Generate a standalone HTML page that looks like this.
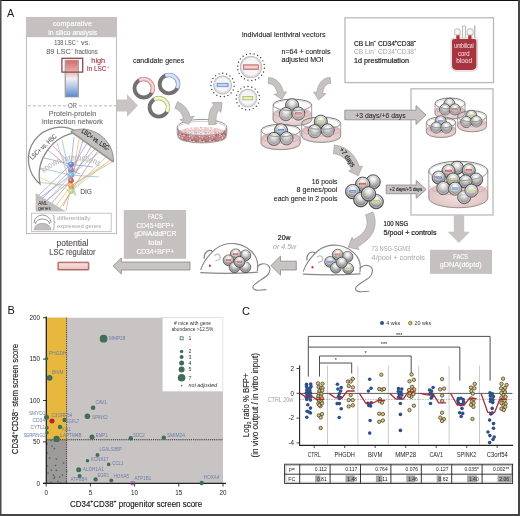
<!DOCTYPE html>
<html><head><meta charset="utf-8"><style>
html,body{margin:0;padding:0;background:#fff;}
svg{display:block;font-family:"Liberation Sans", sans-serif;will-change:transform;}
</style></head><body>
<svg width="520" height="516" viewBox="0 0 520 516">
<rect width="520" height="516" fill="#ffffff"/>
<defs><radialGradient id="bg" cx="0.5" cy="0.4" r="0.62" fx="0.5" fy="0.22"><stop offset="0" stop-color="#ffffff"/><stop offset="0.3" stop-color="#e6e6e6"/><stop offset="0.65" stop-color="#a6a6a6"/><stop offset="0.88" stop-color="#727272"/><stop offset="1" stop-color="#505050"/></radialGradient><radialGradient id="vr" cx="0.5" cy="0.5" r="0.5"><stop offset="0.8" stop-color="#d6d4d4"/><stop offset="1" stop-color="#9a9898"/></radialGradient><radialGradient id="pk" cx="0.5" cy="0.55" r="0.6"><stop offset="0" stop-color="#f0dcdc"/><stop offset="1" stop-color="#d9b4b4"/></radialGradient></defs>
<text x="7.00" y="16.60" font-size="10.8" fill="#1a1a1a" >A</text>
<rect x="26.5" y="17.5" width="90" height="216" fill="#fff" stroke="#c2bebe" stroke-width="1.1"/>
<rect x="26" y="17" width="91" height="20.2" fill="#c6c1c1"/>
<text x="72.45" y="26.20" font-size="7.9" fill="#fff" text-anchor="middle" textLength="39" lengthAdjust="spacingAndGlyphs" stroke="#fff" stroke-width="0.15">comparative</text>
<text x="72.70" y="34.80" font-size="7.9" fill="#fff" text-anchor="middle" textLength="49" lengthAdjust="spacingAndGlyphs" stroke="#fff" stroke-width="0.15">in silico analysis</text>
<text x="54.20" y="45.20" font-size="7.6" fill="#716d6d" textLength="21.6" lengthAdjust="spacingAndGlyphs" stroke="#716d6d" stroke-width="0.12">138 LSC</text>
<text x="76.20" y="42.20" font-size="4.2" fill="#716d6d" >+</text>
<text x="81.10" y="45.20" font-size="7.6" fill="#716d6d" textLength="9.4" lengthAdjust="spacingAndGlyphs" stroke="#716d6d" stroke-width="0.12">vs.</text>
<text x="46.20" y="54.20" font-size="7.6" fill="#716d6d" textLength="24.7" lengthAdjust="spacingAndGlyphs" stroke="#716d6d" stroke-width="0.12">89 LSC</text>
<text x="71.10" y="51.20" font-size="4.2" fill="#716d6d" >−</text>
<text x="74.70" y="54.20" font-size="7.6" fill="#716d6d" textLength="23.1" lengthAdjust="spacingAndGlyphs" stroke="#716d6d" stroke-width="0.12">fractions</text>
<defs><linearGradient id="hm" x1="0" y1="0" x2="0" y2="1"><stop offset="0" stop-color="#d86a6a"/><stop offset="0.25" stop-color="#e2a0a0"/><stop offset="0.5" stop-color="#f4f0f2"/><stop offset="0.75" stop-color="#a9c2e6"/><stop offset="1" stop-color="#5a88c8"/></linearGradient></defs>
<rect x="64.6" y="59.8" width="14.4" height="37.6" fill="#a8a4a4"/>
<rect x="66" y="60.5" width="11.6" height="36.2" fill="url(#hm)"/>
<rect x="61.9" y="58.3" width="20.8" height="13.8" fill="none" stroke="#8e4848" stroke-width="1.3"/>
<text x="91.30" y="62.60" font-size="7.8" fill="#a33a48" textLength="13.9" lengthAdjust="spacingAndGlyphs" stroke="#a33a48" stroke-width="0.15">high</text>
<text x="87.10" y="71.40" font-size="7.8" fill="#a33a48" textLength="19.3" lengthAdjust="spacingAndGlyphs" stroke="#a33a48" stroke-width="0.15">in LSC</text>
<text x="106.80" y="68.20" font-size="4.4" fill="#a33a48" >+</text>
<line x1="28" y1="105.8" x2="66" y2="105.8" stroke="#aaa6a6" stroke-width="0.8" stroke-dasharray="3,2"/>
<line x1="79" y1="105.8" x2="116" y2="105.8" stroke="#aaa6a6" stroke-width="0.8" stroke-dasharray="3,2"/>
<text x="72.40" y="108.10" font-size="7.6" fill="#716d6d" text-anchor="middle" textLength="9" lengthAdjust="spacingAndGlyphs" stroke="#716d6d" stroke-width="0.12">OR</text>
<text x="72.50" y="115.50" font-size="7.9" fill="#716d6d" text-anchor="middle" textLength="47.5" lengthAdjust="spacingAndGlyphs" stroke="#716d6d" stroke-width="0.12">Protein-protein</text>
<text x="72.45" y="124.20" font-size="7.9" fill="#716d6d" text-anchor="middle" textLength="61.1" lengthAdjust="spacingAndGlyphs" stroke="#716d6d" stroke-width="0.12">interaction network</text>
<polyline points="39,195 71,164.3 74,137" fill="none" stroke="#7c9ad0" stroke-width="0.75" opacity="0.9"/>
<polyline points="43,198 71,169.7 88,141.5" fill="none" stroke="#a585c0" stroke-width="0.75" opacity="0.9"/>
<polyline points="47,201 71,175.1 101,151" fill="none" stroke="#74bcd8" stroke-width="0.75" opacity="0.9"/>
<polyline points="51,204 71,180.5 92,145" fill="none" stroke="#c8806e" stroke-width="0.75" opacity="0.9"/>
<polyline points="55,207 71,185.9 111,160" fill="none" stroke="#e8ac6c" stroke-width="0.75" opacity="0.9"/>
<polyline points="59,209.5 71,191.3 106,157" fill="none" stroke="#b4cc84" stroke-width="0.75" opacity="0.9"/>
<polyline points="37,200 71,175.1 96,148" fill="none" stroke="#7c9ad0" stroke-width="0.75" opacity="0.9"/>
<polyline points="41,205 71,180.5 83,140" fill="none" stroke="#a585c0" stroke-width="0.75" opacity="0.9"/>
<polyline points="36,182 71,185.9 112,162" fill="none" stroke="#cfa88c" stroke-width="0.75" opacity="0.9"/>
<polyline points="34,175 71,191.3 104,165" fill="none" stroke="#b4cc84" stroke-width="0.75" opacity="0.9"/>
<polyline points="40,168 71,175.1 99,177" fill="none" stroke="#74bcd8" stroke-width="0.75" opacity="0.9"/>
<polyline points="48,150 71,169.7 80,174" fill="none" stroke="#a585c0" stroke-width="0.75" opacity="0.9"/>
<polyline points="57,143 71,185.9 75,195" fill="none" stroke="#cfa88c" stroke-width="0.75" opacity="0.9"/>
<polyline points="44,158 71,164.3 93,167" fill="none" stroke="#7c9ad0" stroke-width="0.75" opacity="0.9"/>
<polyline points="63,206 71,191.3 97,152" fill="none" stroke="#c8806e" stroke-width="0.75" opacity="0.9"/>
<polyline points="66,211 71,185.9 79,139" fill="none" stroke="#e8ac6c" stroke-width="0.75" opacity="0.9"/>
<polyline points="53,146 71,164.3 78,160" fill="none" stroke="#a585c0" stroke-width="0.75" opacity="0.9"/>
<polyline points="62,140 71,180.5 76,196" fill="none" stroke="#74bcd8" stroke-width="0.75" opacity="0.9"/>
<path id="kip" d="M44.2,173.2 A45.6,45.6 0 0 1 99.2,166.5" fill="none"/>
<text font-size="8.4" fill="#bfbbbb" stroke="#bfbbbb" stroke-width="0.15"><textPath href="#kip" textLength="59" lengthAdjust="spacingAndGlyphs">known interactions</textPath></text>
<path d="M40,183.95 A32,32 0 0 1 77.67,132.35 A43.8,43.8 0 0 0 40,183.95Z" fill="#fff" stroke="#8c8888" stroke-width="1.3"/>
<text x="0.00" y="0.00" font-size="6.6" fill="#5a5656" text-anchor="middle" textLength="34" lengthAdjust="spacingAndGlyphs" stroke="#5a5656" stroke-width="0.1" transform="translate(44.6,148.4) rotate(-43)">LSC+ vs. HSC</text>
<path d="M70.8,131.2 A31.6,31.6 0 0 1 113.5,161.7 Z" fill="#c3bfbf" stroke="#8c8888" stroke-width="0.9"/>
<line x1="70.8" y1="131.6" x2="113.2" y2="161.9" stroke="#9a9696" stroke-width="1.6"/>
<text x="0.00" y="0.00" font-size="6.6" fill="#2a2a2a" text-anchor="middle" textLength="33" lengthAdjust="spacingAndGlyphs" stroke="#2a2a2a" stroke-width="0.2" transform="translate(94.5,141.5) rotate(35.5)">LSC+ vs. LSC-</text>
<defs><radialGradient id="dg" cx="0.4" cy="0.35" r="0.7"><stop offset="0" stop-color="#fff" stop-opacity="0.6"/><stop offset="0.5" stop-color="#fff" stop-opacity="0"/><stop offset="1" stop-color="#000" stop-opacity="0.15"/></radialGradient></defs>
<circle cx="71" cy="164.3" r="2.8" fill="#5b88cc"/>
<circle cx="71" cy="164.3" r="2.8" fill="url(#dg)"/>
<circle cx="71" cy="169.7" r="2.8" fill="#9b80c0"/>
<circle cx="71" cy="169.7" r="2.8" fill="url(#dg)"/>
<circle cx="71" cy="175.1" r="2.8" fill="#6cb8e0"/>
<circle cx="71" cy="175.1" r="2.8" fill="url(#dg)"/>
<circle cx="71" cy="180.5" r="2.8" fill="#c86050"/>
<circle cx="71" cy="180.5" r="2.8" fill="url(#dg)"/>
<circle cx="71" cy="185.9" r="2.8" fill="#e8a050"/>
<circle cx="71" cy="185.9" r="2.8" fill="url(#dg)"/>
<circle cx="71" cy="191.3" r="2.8" fill="#c4d878"/>
<circle cx="71" cy="191.3" r="2.8" fill="url(#dg)"/>
<text x="80.20" y="194.10" font-size="7.2" fill="#444" textLength="11.8" lengthAdjust="spacingAndGlyphs" >DIG</text>
<polygon points="35.6,193 35.6,211.6 66,211.6" fill="#c3bfbf"/>
<text x="38.20" y="204.50" font-size="4.6" fill="#222" >AML</text>
<text x="38.20" y="209.60" font-size="4.6" fill="#222" >genes</text>
<rect x="31.6" y="213.2" width="79.6" height="18.4" fill="#fff" stroke="#c2bebe" stroke-width="0.9"/>
<path d="M34,223 A8.5,8 0 0 1 51,223 M35.5,224 A7,5 0 0 1 49.5,224" fill="none" stroke="#8c8888" stroke-width="0.9"/>
<path d="M34,229.8 A8.5,6.5 0 0 1 51,229.8 Z" fill="#c3bfbf" stroke="#9a9696" stroke-width="0.6"/>
<path d="M52.5,215 Q54,215 54,217 L54,221 Q54,222.3 55.3,222.3 Q54,222.3 54,223.6 L54,228 Q54,230 52.5,230" fill="none" stroke="#8c8888" stroke-width="0.7"/>
<text x="56.90" y="219.80" font-size="6.2" fill="#a6a2a2" textLength="33.5" lengthAdjust="spacingAndGlyphs" >differentially</text>
<text x="56.90" y="227.60" font-size="6.2" fill="#a6a2a2" textLength="44.3" lengthAdjust="spacingAndGlyphs" >expressed genes</text>
<text x="72.50" y="246.00" font-size="8.6" fill="#555151" text-anchor="middle" textLength="32" lengthAdjust="spacingAndGlyphs" stroke="#555151" stroke-width="0.12">potential</text>
<text x="72.40" y="254.90" font-size="8.6" fill="#555151" text-anchor="middle" textLength="46.3" lengthAdjust="spacingAndGlyphs" stroke="#555151" stroke-width="0.12">LSC regulator</text>
<defs><linearGradient id="rb" x1="0" y1="0" x2="0" y2="1"><stop offset="0" stop-color="#f6e4e4"/><stop offset="1" stop-color="#e8c4c4"/></linearGradient></defs>
<rect x="56.8" y="261.2" width="33" height="9.8" rx="2.2" fill="#e6baba"/>
<rect x="58.3" y="262.7" width="30" height="6.8" fill="url(#rb)" stroke="#b25858" stroke-width="0.9"/>
<polygon points="117.00,99.40 127.00,99.40 127.00,94.00 137.90,105.50 127.00,117.00 127.00,111.60 117.00,111.60" fill="#c8c4c4" stroke="none" stroke-width="0"/>
<text x="133.00" y="63.40" font-size="7.2" fill="#222" textLength="51.2" lengthAdjust="spacingAndGlyphs" stroke="#222" stroke-width="0.1">candidate genes</text>
<circle cx="143.7" cy="88.3" r="9.2" fill="none" stroke="#727070" stroke-width="3.8"/>
<path d="M139.24,80.25 A9.2,9.2 0 0 1 151.75,92.76" fill="none" stroke="#d48a8a" stroke-width="4.4"/>
<path d="M139.24,80.25 A9.2,9.2 0 0 1 151.75,92.76" fill="none" stroke="#efc0c0" stroke-width="3.0"/>
<path d="M139.24,80.25 A9.2,9.2 0 0 1 151.75,92.76" fill="none" stroke="#fff" stroke-width="1" opacity="0.6"/>
<circle cx="168.9" cy="84.2" r="9.2" fill="none" stroke="#727070" stroke-width="3.8"/>
<path d="M165.45,75.67 A9.2,9.2 0 0 1 177.24,88.09" fill="none" stroke="#7fa0d8" stroke-width="4.4"/>
<path d="M165.45,75.67 A9.2,9.2 0 0 1 177.24,88.09" fill="none" stroke="#c6d6f2" stroke-width="3.0"/>
<path d="M165.45,75.67 A9.2,9.2 0 0 1 177.24,88.09" fill="none" stroke="#fff" stroke-width="1" opacity="0.6"/>
<circle cx="158.8" cy="107.4" r="9.2" fill="none" stroke="#727070" stroke-width="3.8"/>
<path d="M154.20,99.43 A9.2,9.2 0 0 1 166.92,111.72" fill="none" stroke="#b8c878" stroke-width="4.4"/>
<path d="M154.20,99.43 A9.2,9.2 0 0 1 166.92,111.72" fill="none" stroke="#e8f0c4" stroke-width="3.0"/>
<path d="M154.20,99.43 A9.2,9.2 0 0 1 166.92,111.72" fill="none" stroke="#fff" stroke-width="1" opacity="0.6"/>
<defs><pattern id="c1" width="10" height="6" patternUnits="userSpaceOnUse"><rect width="10" height="6" fill="#eccfcf"/><circle cx="3.2" cy="0.9" r="0.9" fill="#f8eeee"/><circle cx="8.2" cy="0.6" r="0.8" fill="#d4a2a2"/><circle cx="0.4" cy="2.6" r="0.5" fill="#f8eeee"/><circle cx="5.5" cy="0.4" r="0.8" fill="#d4a2a2"/><circle cx="6.3" cy="3.5" r="0.5" fill="#fdf8f8"/><circle cx="0.5" cy="1.3" r="0.8" fill="#d4a2a2"/><circle cx="2.9" cy="0.9" r="0.6" fill="#ecd0d0"/><circle cx="5.6" cy="4.1" r="0.6" fill="#d4a2a2"/><circle cx="3.7" cy="3.3" r="0.5" fill="#f8eeee"/><circle cx="6.2" cy="3.0" r="0.8" fill="#ecd0d0"/><circle cx="4.7" cy="5.5" r="0.7" fill="#d4a2a2"/><circle cx="7.9" cy="4.2" r="0.6" fill="#ecd0d0"/><circle cx="5.3" cy="5.3" r="0.9" fill="#ecd0d0"/><circle cx="6.1" cy="0.4" r="0.8" fill="#d4a2a2"/><circle cx="7.6" cy="0.9" r="0.8" fill="#f8eeee"/><circle cx="9.6" cy="0.5" r="0.8" fill="#ecd0d0"/><circle cx="3.4" cy="2.1" r="0.8" fill="#fdf8f8"/><circle cx="0.7" cy="0.6" r="0.7" fill="#f8eeee"/><circle cx="0.6" cy="4.2" r="0.9" fill="#fdf8f8"/><circle cx="2.8" cy="2.3" r="0.9" fill="#f8eeee"/><circle cx="9.4" cy="2.1" r="0.9" fill="#fdf8f8"/><circle cx="0.6" cy="4.6" r="0.6" fill="#d4a2a2"/></pattern><pattern id="c2" width="10" height="6" patternUnits="userSpaceOnUse"><rect width="10" height="6" fill="#cc9090"/><circle cx="4.5" cy="3.4" r="1.1" fill="#f6e6e6"/><circle cx="4.5" cy="5.1" r="0.6" fill="#a85a5a"/><circle cx="4.8" cy="3.7" r="0.6" fill="#f6e6e6"/><circle cx="3.0" cy="0.5" r="1.0" fill="#b06666"/><circle cx="6.0" cy="2.4" r="0.8" fill="#a85a5a"/><circle cx="6.5" cy="3.7" r="1.0" fill="#b06666"/><circle cx="0.6" cy="1.1" r="0.6" fill="#b06666"/><circle cx="7.8" cy="2.0" r="0.9" fill="#eed6d6"/><circle cx="5.2" cy="3.8" r="0.8" fill="#b06666"/><circle cx="4.6" cy="1.7" r="1.1" fill="#b06666"/><circle cx="7.1" cy="1.9" r="0.6" fill="#c07a7a"/><circle cx="0.3" cy="3.4" r="0.6" fill="#b06666"/><circle cx="8.5" cy="2.3" r="1.1" fill="#b06666"/><circle cx="2.1" cy="5.6" r="0.5" fill="#f6e6e6"/><circle cx="9.8" cy="2.4" r="0.5" fill="#eed6d6"/><circle cx="7.8" cy="1.6" r="0.6" fill="#c07a7a"/><circle cx="0.2" cy="2.5" r="1.1" fill="#eed6d6"/><circle cx="2.5" cy="0.6" r="0.5" fill="#f6e6e6"/><circle cx="1.8" cy="3.4" r="0.8" fill="#eed6d6"/><circle cx="9.9" cy="4.6" r="0.8" fill="#f6e6e6"/><circle cx="1.2" cy="2.5" r="0.6" fill="#c07a7a"/><circle cx="8.6" cy="5.8" r="0.9" fill="#b06666"/><circle cx="2.1" cy="2.4" r="1.0" fill="#a85a5a"/><circle cx="1.0" cy="5.9" r="0.6" fill="#c07a7a"/></pattern></defs>
<path d="M177.3,128 L178.3,137.5 A23.8,5.8 0 0 0 225.8,137.5 L226.8,128 Z" fill="url(#c2)"/>
<path d="M178.3,137.5 A23.8,5.8 0 0 0 225.8,137.5" fill="none" stroke="#9a9696" stroke-width="0.8"/>
<ellipse cx="202" cy="127.4" rx="24.9" ry="8" fill="#fff" stroke="#8e8a8a" stroke-width="0.9"/>
<ellipse cx="202" cy="131" rx="22" ry="4" fill="url(#c1)"/>
<ellipse cx="202" cy="128.2" rx="23.8" ry="6.9" fill="none" stroke="#b0acac" stroke-width="0.6"/>
<path d="M177.3,128 Q176.6,133 178.3,137.5 M226.8,128 Q227.4,133 225.8,137.5" fill="none" stroke="#8e8a8a" stroke-width="0.9"/>
<path d="M177.8,133.2 A24,5.5 0 0 0 226.2,133.2" fill="none" stroke="#8e8a8a" stroke-width="0.6"/>
<polygon points="174.84,108.22 175.41,108.48 175.95,108.74 176.47,109.02 176.97,109.31 177.45,109.62 177.92,109.95 178.36,110.28 178.79,110.64 179.20,111.01 179.59,111.39 179.96,111.79 180.32,112.21 180.67,112.64 181.00,113.10 181.31,113.57 181.62,114.06 181.90,114.57 182.17,115.10 182.43,115.66 182.67,116.23 182.90,116.83 183.11,117.45 183.31,118.09 183.49,118.76 179.90,119.67 188.50,124.30 193.86,116.13 190.27,117.04 190.04,116.16 189.77,115.30 189.49,114.46 189.17,113.63 188.83,112.83 188.47,112.04 188.07,111.27 187.66,110.52 187.21,109.79 186.74,109.09 186.24,108.40 185.72,107.74 185.17,107.11 184.59,106.49 183.99,105.90 183.36,105.34 182.71,104.80 182.04,104.29 181.35,103.81 180.63,103.35 179.89,102.91 179.14,102.51 178.36,102.13 177.56,101.78" fill="#c6c2c2" stroke="#a19d9d" stroke-width="0.7" stroke-linejoin="miter"/>
<polygon points="216.19,124.20 216.12,123.24 216.07,122.32 216.04,121.42 216.03,120.56 216.04,119.72 216.07,118.93 216.12,118.16 216.18,117.43 216.26,116.74 216.36,116.07 216.47,115.45 216.60,114.86 216.74,114.30 216.90,113.78 217.06,113.29 217.24,112.83 217.43,112.41 217.62,112.03 217.83,111.67 218.04,111.34 218.26,111.04 218.48,110.77 218.71,110.52 218.95,110.29 220.89,112.45 222.00,102.60 212.08,102.62 214.02,104.78 213.45,105.32 212.91,105.90 212.41,106.51 211.94,107.15 211.51,107.82 211.11,108.51 210.75,109.23 210.41,109.98 210.11,110.74 209.85,111.53 209.61,112.33 209.39,113.16 209.21,114.01 209.05,114.88 208.92,115.77 208.82,116.69 208.74,117.62 208.68,118.58 208.64,119.56 208.63,120.56 208.64,121.58 208.68,122.63 208.73,123.70 208.81,124.80" fill="#c6c2c2" stroke="#a19d9d" stroke-width="0.7" stroke-linejoin="miter"/>
<circle cx="251" cy="67.1" r="11.10" fill="#b4b2b2"/>
<circle cx="251" cy="67.1" r="10.40" fill="#dedcdc"/>
<circle cx="251" cy="66.70" r="9.00" fill="#f6f4f4"/>
<circle cx="264.35" cy="68.25" r="0.7" fill="#3c3c3c"/>
<circle cx="263.49" cy="71.96" r="0.7" fill="#3c3c3c"/>
<circle cx="261.61" cy="75.28" r="0.7" fill="#3c3c3c"/>
<circle cx="258.88" cy="77.94" r="0.7" fill="#3c3c3c"/>
<circle cx="255.50" cy="79.72" r="0.7" fill="#3c3c3c"/>
<circle cx="251.76" cy="80.48" r="0.7" fill="#3c3c3c"/>
<circle cx="247.96" cy="80.15" r="0.7" fill="#3c3c3c"/>
<circle cx="244.41" cy="78.77" r="0.7" fill="#3c3c3c"/>
<circle cx="241.39" cy="76.44" r="0.7" fill="#3c3c3c"/>
<circle cx="239.15" cy="73.35" r="0.7" fill="#3c3c3c"/>
<circle cx="237.87" cy="69.76" r="0.7" fill="#3c3c3c"/>
<circle cx="237.65" cy="65.95" r="0.7" fill="#3c3c3c"/>
<circle cx="238.51" cy="62.24" r="0.7" fill="#3c3c3c"/>
<circle cx="240.39" cy="58.92" r="0.7" fill="#3c3c3c"/>
<circle cx="243.12" cy="56.26" r="0.7" fill="#3c3c3c"/>
<circle cx="246.50" cy="54.48" r="0.7" fill="#3c3c3c"/>
<circle cx="250.24" cy="53.72" r="0.7" fill="#3c3c3c"/>
<circle cx="254.04" cy="54.05" r="0.7" fill="#3c3c3c"/>
<circle cx="257.59" cy="55.43" r="0.7" fill="#3c3c3c"/>
<circle cx="260.61" cy="57.76" r="0.7" fill="#3c3c3c"/>
<circle cx="262.85" cy="60.85" r="0.7" fill="#3c3c3c"/>
<circle cx="264.13" cy="64.44" r="0.7" fill="#3c3c3c"/>
<rect x="243.50" y="64.80" width="15.00" height="4.60" fill="#e4a8a8" stroke="#bc6e6e" stroke-width="0.8"/>
<rect x="244.70" y="66.27" width="12.60" height="1.66" fill="#fff" opacity="0.55"/>
<circle cx="222.6" cy="85" r="9.40" fill="#b4b2b2"/>
<circle cx="222.6" cy="85" r="8.70" fill="#dedcdc"/>
<circle cx="222.6" cy="84.60" r="7.30" fill="#f6f4f4"/>
<circle cx="234.24" cy="86.16" r="0.7" fill="#3c3c3c"/>
<circle cx="233.24" cy="89.88" r="0.7" fill="#3c3c3c"/>
<circle cx="231.08" cy="93.07" r="0.7" fill="#3c3c3c"/>
<circle cx="228.00" cy="95.38" r="0.7" fill="#3c3c3c"/>
<circle cx="224.33" cy="96.57" r="0.7" fill="#3c3c3c"/>
<circle cx="220.48" cy="96.51" r="0.7" fill="#3c3c3c"/>
<circle cx="216.86" cy="95.20" r="0.7" fill="#3c3c3c"/>
<circle cx="213.86" cy="92.78" r="0.7" fill="#3c3c3c"/>
<circle cx="211.81" cy="89.52" r="0.7" fill="#3c3c3c"/>
<circle cx="210.93" cy="85.77" r="0.7" fill="#3c3c3c"/>
<circle cx="211.31" cy="81.94" r="0.7" fill="#3c3c3c"/>
<circle cx="212.91" cy="78.44" r="0.7" fill="#3c3c3c"/>
<circle cx="215.57" cy="75.65" r="0.7" fill="#3c3c3c"/>
<circle cx="218.98" cy="73.87" r="0.7" fill="#3c3c3c"/>
<circle cx="222.79" cy="73.30" r="0.7" fill="#3c3c3c"/>
<circle cx="226.58" cy="74.00" r="0.7" fill="#3c3c3c"/>
<circle cx="229.94" cy="75.89" r="0.7" fill="#3c3c3c"/>
<circle cx="232.50" cy="78.76" r="0.7" fill="#3c3c3c"/>
<circle cx="233.99" cy="82.32" r="0.7" fill="#3c3c3c"/>
<rect x="217.10" y="83.30" width="11.00" height="3.40" fill="#a8c2ee" stroke="#6a8ed0" stroke-width="0.8"/>
<rect x="218.30" y="84.39" width="8.60" height="1.22" fill="#fff" opacity="0.55"/>
<circle cx="247.8" cy="98.2" r="9.40" fill="#b4b2b2"/>
<circle cx="247.8" cy="98.2" r="8.70" fill="#dedcdc"/>
<circle cx="247.8" cy="97.80" r="7.30" fill="#f6f4f4"/>
<circle cx="259.44" cy="99.36" r="0.7" fill="#3c3c3c"/>
<circle cx="258.44" cy="103.08" r="0.7" fill="#3c3c3c"/>
<circle cx="256.28" cy="106.27" r="0.7" fill="#3c3c3c"/>
<circle cx="253.20" cy="108.58" r="0.7" fill="#3c3c3c"/>
<circle cx="249.53" cy="109.77" r="0.7" fill="#3c3c3c"/>
<circle cx="245.68" cy="109.71" r="0.7" fill="#3c3c3c"/>
<circle cx="242.06" cy="108.40" r="0.7" fill="#3c3c3c"/>
<circle cx="239.06" cy="105.98" r="0.7" fill="#3c3c3c"/>
<circle cx="237.01" cy="102.72" r="0.7" fill="#3c3c3c"/>
<circle cx="236.13" cy="98.97" r="0.7" fill="#3c3c3c"/>
<circle cx="236.51" cy="95.14" r="0.7" fill="#3c3c3c"/>
<circle cx="238.11" cy="91.64" r="0.7" fill="#3c3c3c"/>
<circle cx="240.77" cy="88.85" r="0.7" fill="#3c3c3c"/>
<circle cx="244.18" cy="87.07" r="0.7" fill="#3c3c3c"/>
<circle cx="247.99" cy="86.50" r="0.7" fill="#3c3c3c"/>
<circle cx="251.78" cy="87.20" r="0.7" fill="#3c3c3c"/>
<circle cx="255.14" cy="89.09" r="0.7" fill="#3c3c3c"/>
<circle cx="257.70" cy="91.96" r="0.7" fill="#3c3c3c"/>
<circle cx="259.19" cy="95.52" r="0.7" fill="#3c3c3c"/>
<rect x="242.80" y="96.60" width="10.00" height="3.20" fill="#dfe8a4" stroke="#a8bc60" stroke-width="0.8"/>
<rect x="244.00" y="97.62" width="7.60" height="1.15" fill="#fff" opacity="0.55"/>
<text x="242.00" y="37.00" font-size="7.2" fill="#222" textLength="83.5" lengthAdjust="spacingAndGlyphs" stroke="#222" stroke-width="0.1">individual lentiviral vectors</text>
<text x="281.50" y="53.60" font-size="7.2" fill="#222" textLength="49" lengthAdjust="spacingAndGlyphs" stroke="#222" stroke-width="0.1">n=64 + controls</text>
<text x="281.50" y="62.00" font-size="7.2" fill="#222" textLength="42" lengthAdjust="spacingAndGlyphs" stroke="#222" stroke-width="0.1">adjusted MOI</text>
<polygon points="268.30,83.70 268.91,83.73 269.49,83.80 270.04,83.90 270.56,84.02 271.05,84.17 271.52,84.35 271.96,84.56 272.39,84.79 272.80,85.05 273.20,85.34 273.59,85.67 273.96,86.03 274.32,86.43 274.68,86.87 275.02,87.35 275.35,87.87 275.68,88.43 275.98,89.04 276.28,89.70 276.56,90.41 276.82,91.16 277.07,91.95 277.29,92.80 277.50,93.69 274.38,94.37 281.80,99.30 286.49,91.72 283.36,92.41 283.11,91.33 282.83,90.29 282.52,89.28 282.18,88.31 281.81,87.37 281.40,86.47 280.97,85.61 280.50,84.78 279.99,83.98 279.45,83.23 278.87,82.51 278.26,81.84 277.61,81.22 276.92,80.63 276.19,80.10 275.44,79.62 274.65,79.19 273.84,78.82 273.00,78.50 272.14,78.23 271.25,78.02 270.35,77.86 269.43,77.76 268.50,77.70" fill="#c6c2c2" stroke="#a19d9d" stroke-width="0.7" stroke-linejoin="miter"/>
<polygon points="330.20,77.41 329.30,77.49 328.42,77.63 327.56,77.82 326.71,78.06 325.89,78.35 325.10,78.70 324.33,79.10 323.59,79.56 322.89,80.06 322.22,80.62 321.59,81.22 321.00,81.87 320.44,82.55 319.93,83.28 319.45,84.04 319.01,84.84 318.61,85.68 318.25,86.54 317.91,87.44 317.61,88.37 317.35,89.34 317.11,90.34 316.90,91.37 316.72,92.43 313.56,91.95 318.60,100.00 325.82,93.82 322.65,93.34 322.80,92.46 322.97,91.62 323.16,90.84 323.36,90.10 323.59,89.40 323.83,88.75 324.08,88.15 324.35,87.59 324.63,87.07 324.93,86.60 325.23,86.17 325.55,85.77 325.87,85.42 326.21,85.10 326.56,84.81 326.92,84.55 327.30,84.32 327.69,84.11 328.11,83.93 328.55,83.77 329.02,83.64 329.51,83.53 330.04,83.45 330.60,83.39" fill="#c6c2c2" stroke="#a19d9d" stroke-width="0.7" stroke-linejoin="miter"/>
<path d="M273.10,113.90 L273.10,119.90 A19.30,5.80 0 0 0 311.70,119.90 L311.70,113.90 A19.30,5.80 0 0 0 273.10,113.90Z" fill="url(#pk)" stroke="#c9a5a5" stroke-width="0.5"/>
<path d="M273.10,104.90 A19.30,5.80 0 0 1 311.70,104.90" fill="none" stroke="#7e7a7a" stroke-width="1.0"/>
<path d="M274.30,105.20 A18.10,4.80 0 0 1 310.50,105.20" fill="none" stroke="#bdb9b9" stroke-width="0.6"/>
<circle cx="292.10" cy="105.30" r="6.60" fill="url(#bg)" stroke="#3c3c3c" stroke-width="0.79"/>
<circle cx="292.10" cy="105.30" r="5.41" fill="none" stroke="#f0f0f0" stroke-width="0.59" opacity="0.8"/>
<circle cx="292.10" cy="105.30" r="4.82" fill="none" stroke="#8a8a8a" stroke-width="0.40" opacity="0.6"/>
<circle cx="285.90" cy="114.10" r="6.60" fill="url(#bg)" stroke="#3c3c3c" stroke-width="0.79"/>
<circle cx="285.90" cy="114.10" r="5.41" fill="none" stroke="#f0f0f0" stroke-width="0.59" opacity="0.8"/>
<circle cx="285.90" cy="114.10" r="4.82" fill="none" stroke="#8a8a8a" stroke-width="0.40" opacity="0.6"/>
<circle cx="298.30" cy="113.60" r="6.60" fill="url(#bg)" stroke="#3c3c3c" stroke-width="0.79"/>
<circle cx="298.30" cy="113.60" r="5.41" fill="none" stroke="#f0f0f0" stroke-width="0.59" opacity="0.8"/>
<circle cx="298.30" cy="113.60" r="4.82" fill="none" stroke="#8a8a8a" stroke-width="0.40" opacity="0.6"/>
<rect x="294.67" y="112.08" width="7.26" height="2.77" fill="#c65454" stroke="#f4f4f4" stroke-width="0.46"/>
<rect x="295.76" y="113.08" width="5.08" height="0.78" fill="#f2c8c8" opacity="0.8"/>
<path d="M273.10,109.40 A19.30,5.80 0 0 0 311.70,109.40 L311.70,119.90 A19.30,5.80 0 0 1 273.10,119.90 Z" fill="#ffffff" opacity="0.2"/>
<path d="M273.10,104.90 A19.30,5.80 0 0 0 311.70,104.90" fill="none" stroke="#7e7a7a" stroke-width="0.95" opacity="0.85"/>
<path d="M274.20,105.80 A18.20,5.40 0 0 0 310.60,105.80" fill="none" stroke="#bcb8b8" stroke-width="0.6" opacity="0.9"/>
<path d="M273.10,104.90 L273.10,119.90 A19.30,5.80 0 0 0 311.70,119.90 L311.70,104.90" fill="none" stroke="#8a8686" stroke-width="0.8"/>
<path d="M274.10,113.15 A18.30,5.30 0 0 0 310.70,113.15" fill="none" stroke="#c6a0a0" stroke-width="0.7"/>
<path d="M261.10,138.30 L261.10,143.50 A19.50,6.20 0 0 0 300.10,143.50 L300.10,138.30 A19.50,6.20 0 0 0 261.10,138.30Z" fill="url(#pk)" stroke="#c9a5a5" stroke-width="0.5"/>
<path d="M261.10,130.50 A19.50,6.20 0 0 1 300.10,130.50" fill="none" stroke="#7e7a7a" stroke-width="1.0"/>
<path d="M262.30,130.80 A18.30,5.20 0 0 1 298.90,130.80" fill="none" stroke="#bdb9b9" stroke-width="0.6"/>
<circle cx="281.00" cy="130.40" r="6.60" fill="url(#bg)" stroke="#3c3c3c" stroke-width="0.79"/>
<circle cx="281.00" cy="130.40" r="5.41" fill="none" stroke="#f0f0f0" stroke-width="0.59" opacity="0.8"/>
<circle cx="281.00" cy="130.40" r="4.82" fill="none" stroke="#8a8a8a" stroke-width="0.40" opacity="0.6"/>
<rect x="277.37" y="128.88" width="7.26" height="2.77" fill="#5580c8" stroke="#f4f4f4" stroke-width="0.46"/>
<rect x="278.46" y="129.88" width="5.08" height="0.78" fill="#c8daf4" opacity="0.8"/>
<circle cx="274.00" cy="139.00" r="6.60" fill="url(#bg)" stroke="#3c3c3c" stroke-width="0.79"/>
<circle cx="274.00" cy="139.00" r="5.41" fill="none" stroke="#f0f0f0" stroke-width="0.59" opacity="0.8"/>
<circle cx="274.00" cy="139.00" r="4.82" fill="none" stroke="#8a8a8a" stroke-width="0.40" opacity="0.6"/>
<circle cx="286.50" cy="138.40" r="6.60" fill="url(#bg)" stroke="#3c3c3c" stroke-width="0.79"/>
<circle cx="286.50" cy="138.40" r="5.41" fill="none" stroke="#f0f0f0" stroke-width="0.59" opacity="0.8"/>
<circle cx="286.50" cy="138.40" r="4.82" fill="none" stroke="#8a8a8a" stroke-width="0.40" opacity="0.6"/>
<path d="M261.10,134.40 A19.50,6.20 0 0 0 300.10,134.40 L300.10,143.50 A19.50,6.20 0 0 1 261.10,143.50 Z" fill="#ffffff" opacity="0.2"/>
<path d="M261.10,130.50 A19.50,6.20 0 0 0 300.10,130.50" fill="none" stroke="#7e7a7a" stroke-width="0.95" opacity="0.85"/>
<path d="M262.20,131.40 A18.40,5.80 0 0 0 299.00,131.40" fill="none" stroke="#bcb8b8" stroke-width="0.6" opacity="0.9"/>
<path d="M261.10,130.50 L261.10,143.50 A19.50,6.20 0 0 0 300.10,143.50 L300.10,130.50" fill="none" stroke="#8a8686" stroke-width="0.8"/>
<path d="M262.10,137.65 A18.50,5.70 0 0 0 299.10,137.65" fill="none" stroke="#c6a0a0" stroke-width="0.7"/>
<path d="M301.70,131.00 L301.70,136.20 A19.50,6.20 0 0 0 340.70,136.20 L340.70,131.00 A19.50,6.20 0 0 0 301.70,131.00Z" fill="url(#pk)" stroke="#c9a5a5" stroke-width="0.5"/>
<path d="M301.70,123.20 A19.50,6.20 0 0 1 340.70,123.20" fill="none" stroke="#7e7a7a" stroke-width="1.0"/>
<path d="M302.90,123.50 A18.30,5.20 0 0 1 339.50,123.50" fill="none" stroke="#bdb9b9" stroke-width="0.6"/>
<circle cx="320.80" cy="121.70" r="6.60" fill="url(#bg)" stroke="#3c3c3c" stroke-width="0.79"/>
<circle cx="320.80" cy="121.70" r="5.41" fill="none" stroke="#f0f0f0" stroke-width="0.59" opacity="0.8"/>
<circle cx="320.80" cy="121.70" r="4.82" fill="none" stroke="#8a8a8a" stroke-width="0.40" opacity="0.6"/>
<rect x="317.17" y="120.18" width="7.26" height="2.77" fill="#aac458" stroke="#f4f4f4" stroke-width="0.46"/>
<rect x="318.26" y="121.18" width="5.08" height="0.78" fill="#e6f0c0" opacity="0.8"/>
<circle cx="314.70" cy="131.20" r="6.60" fill="url(#bg)" stroke="#3c3c3c" stroke-width="0.79"/>
<circle cx="314.70" cy="131.20" r="5.41" fill="none" stroke="#f0f0f0" stroke-width="0.59" opacity="0.8"/>
<circle cx="314.70" cy="131.20" r="4.82" fill="none" stroke="#8a8a8a" stroke-width="0.40" opacity="0.6"/>
<circle cx="327.70" cy="130.40" r="6.60" fill="url(#bg)" stroke="#3c3c3c" stroke-width="0.79"/>
<circle cx="327.70" cy="130.40" r="5.41" fill="none" stroke="#f0f0f0" stroke-width="0.59" opacity="0.8"/>
<circle cx="327.70" cy="130.40" r="4.82" fill="none" stroke="#8a8a8a" stroke-width="0.40" opacity="0.6"/>
<path d="M301.70,127.10 A19.50,6.20 0 0 0 340.70,127.10 L340.70,136.20 A19.50,6.20 0 0 1 301.70,136.20 Z" fill="#ffffff" opacity="0.2"/>
<path d="M301.70,123.20 A19.50,6.20 0 0 0 340.70,123.20" fill="none" stroke="#7e7a7a" stroke-width="0.95" opacity="0.85"/>
<path d="M302.80,124.10 A18.40,5.80 0 0 0 339.60,124.10" fill="none" stroke="#bcb8b8" stroke-width="0.6" opacity="0.9"/>
<path d="M301.70,123.20 L301.70,136.20 A19.50,6.20 0 0 0 340.70,136.20 L340.70,123.20" fill="none" stroke="#8a8686" stroke-width="0.8"/>
<path d="M302.70,130.35 A18.50,5.70 0 0 0 339.70,130.35" fill="none" stroke="#c6a0a0" stroke-width="0.7"/>
<rect x="345" y="17.8" width="148.5" height="64.8" fill="#fff" stroke="#bdb8b8" stroke-width="1.3"/>
<text x="0.00" y="0.00" font-size="7.6" fill="#222" stroke="#222" stroke-width="0.2" transform="translate(354,45.5) scale(0.87,1)">CB Lin<tspan font-size="4.5" dy="-3">−</tspan><tspan dy="3"> CD34</tspan><tspan font-size="4.5" dy="-3">+</tspan><tspan dy="3">CD38</tspan><tspan font-size="4.5" dy="-3">−</tspan></text>
<text x="0.00" y="0.00" font-size="7.6" fill="#a8a4a4" transform="translate(354,54.1) scale(0.87,1)">CB Lin<tspan font-size="4.5" dy="-3">−</tspan><tspan dy="3"> CD34</tspan><tspan font-size="4.5" dy="-3">+</tspan><tspan dy="3">CD38</tspan><tspan font-size="4.5" dy="-3">+</tspan></text>
<text x="354.00" y="63.30" font-size="7.6" fill="#222" textLength="55" lengthAdjust="spacingAndGlyphs" stroke="#222" stroke-width="0.2">1d prestimulation</text>
<path d="M454.7,35 L454.7,30.5 Q454.7,28.7 457.4,28.7 Q460.1,28.7 460.1,30.5 L460.1,35 Z" fill="#f4f4f4" stroke="#a6a2a2" stroke-width="0.7"/>
<path d="M467.1,35 L467.1,30.5 Q467.1,28.7 470.1,28.7 Q473.1,28.7 473.1,30.5 L473.1,35 Z" fill="#f4f4f4" stroke="#a6a2a2" stroke-width="0.7"/>
<rect x="462.6" y="26" width="2.8" height="12.5" fill="#f6f6f6" stroke="#a6a2a2" stroke-width="0.7"/>
<line x1="474.8" y1="25.5" x2="474.8" y2="38.5" stroke="#a6a2a2" stroke-width="1.1"/>
<path d="M454.2,37.9 L476,37.9 Q477.5,37.9 477.5,41.2 L477.5,65.6 Q477.5,71 472.1,71 L456.3,71 Q450.9,71 450.9,65.6 L450.9,41.2 Q450.9,37.9 454.2,37.9 Z" fill="#f2f0f0" stroke="#d0cccc" stroke-width="0.8"/>
<path d="M452,41 Q452,39 454,39 L456.3,39 L456.3,35.2 L459.6,35.2 L459.6,39 L468.2,39 L468.2,35.2 L471.5,35.2 L471.5,39 L474.4,39 Q476.4,39 476.4,41 L476.4,65.5 Q476.4,69.9 472,69.9 L456.4,69.9 Q452,69.9 452,65.5 Z" fill="#a83440"/>
<text x="463.90" y="48.40" font-size="6.6" fill="#f6e8e8" text-anchor="middle" textLength="19.6" lengthAdjust="spacingAndGlyphs" >umbilical</text>
<text x="463.75" y="56.30" font-size="7.2" fill="#f6e8e8" text-anchor="middle" textLength="11.7" lengthAdjust="spacingAndGlyphs" >cord</text>
<text x="464.15" y="63.40" font-size="7.2" fill="#f6e8e8" text-anchor="middle" textLength="15.7" lengthAdjust="spacingAndGlyphs" >blood</text>
<rect x="411" y="88.8" width="82" height="126.2" fill="#fff" stroke="#bdb8b8" stroke-width="1.3"/>
<path d="M435.00,111.00 L435.00,113.50 A15.00,5.50 0 0 0 465.00,113.50 L465.00,111.00 A15.00,5.50 0 0 0 435.00,111.00Z" fill="url(#pk)" stroke="#c9a5a5" stroke-width="0.5"/>
<path d="M435.00,103.50 A15.00,5.50 0 0 1 465.00,103.50" fill="none" stroke="#7e7a7a" stroke-width="1.0"/>
<path d="M436.20,103.80 A13.80,4.50 0 0 1 463.80,103.80" fill="none" stroke="#bdb9b9" stroke-width="0.6"/>
<circle cx="449.40" cy="103.90" r="5.60" fill="url(#bg)" stroke="#3c3c3c" stroke-width="0.67"/>
<circle cx="449.40" cy="103.90" r="4.59" fill="none" stroke="#f0f0f0" stroke-width="0.50" opacity="0.8"/>
<circle cx="449.40" cy="103.90" r="4.09" fill="none" stroke="#8a8a8a" stroke-width="0.34" opacity="0.6"/>
<circle cx="445.00" cy="109.50" r="5.60" fill="url(#bg)" stroke="#3c3c3c" stroke-width="0.67"/>
<circle cx="445.00" cy="109.50" r="4.59" fill="none" stroke="#f0f0f0" stroke-width="0.50" opacity="0.8"/>
<circle cx="445.00" cy="109.50" r="4.09" fill="none" stroke="#8a8a8a" stroke-width="0.34" opacity="0.6"/>
<circle cx="455.00" cy="109.50" r="5.60" fill="url(#bg)" stroke="#3c3c3c" stroke-width="0.67"/>
<circle cx="455.00" cy="109.50" r="4.59" fill="none" stroke="#f0f0f0" stroke-width="0.50" opacity="0.8"/>
<circle cx="455.00" cy="109.50" r="4.09" fill="none" stroke="#8a8a8a" stroke-width="0.34" opacity="0.6"/>
<rect x="451.92" y="108.21" width="6.16" height="2.35" fill="#c65454" stroke="#f4f4f4" stroke-width="0.39"/>
<rect x="452.84" y="109.06" width="4.31" height="0.66" fill="#f2c8c8" opacity="0.8"/>
<path d="M435.00,106.50 A15.00,5.50 0 0 0 465.00,106.50 L465.00,113.50 A15.00,5.50 0 0 1 435.00,113.50 Z" fill="#ffffff" opacity="0.18"/>
<path d="M435.00,103.50 A15.00,5.50 0 0 0 465.00,103.50" fill="none" stroke="#7e7a7a" stroke-width="0.95" opacity="0.85"/>
<path d="M436.10,104.40 A13.90,5.10 0 0 0 463.90,104.40" fill="none" stroke="#bcb8b8" stroke-width="0.6" opacity="0.9"/>
<path d="M435.00,103.50 L435.00,113.50 A15.00,5.50 0 0 0 465.00,113.50 L465.00,103.50" fill="none" stroke="#8a8686" stroke-width="0.8"/>
<path d="M436.00,109.00 A14.00,5.00 0 0 0 464.00,109.00" fill="none" stroke="#c6a0a0" stroke-width="0.7"/>
<path d="M426.30,129.62 L426.30,132.00 A14.70,5.50 0 0 0 455.70,132.00 L455.70,129.62 A14.70,5.50 0 0 0 426.30,129.62Z" fill="url(#pk)" stroke="#c9a5a5" stroke-width="0.5"/>
<path d="M426.30,122.50 A14.70,5.50 0 0 1 455.70,122.50" fill="none" stroke="#7e7a7a" stroke-width="1.0"/>
<path d="M427.50,122.80 A13.50,4.50 0 0 1 454.50,122.80" fill="none" stroke="#bdb9b9" stroke-width="0.6"/>
<circle cx="440.60" cy="121.40" r="5.60" fill="url(#bg)" stroke="#3c3c3c" stroke-width="0.67"/>
<circle cx="440.60" cy="121.40" r="4.59" fill="none" stroke="#f0f0f0" stroke-width="0.50" opacity="0.8"/>
<circle cx="440.60" cy="121.40" r="4.09" fill="none" stroke="#8a8a8a" stroke-width="0.34" opacity="0.6"/>
<rect x="437.52" y="120.11" width="6.16" height="2.35" fill="#5580c8" stroke="#f4f4f4" stroke-width="0.39"/>
<rect x="438.44" y="120.96" width="4.31" height="0.66" fill="#c8daf4" opacity="0.8"/>
<circle cx="436.30" cy="127.60" r="5.60" fill="url(#bg)" stroke="#3c3c3c" stroke-width="0.67"/>
<circle cx="436.30" cy="127.60" r="4.59" fill="none" stroke="#f0f0f0" stroke-width="0.50" opacity="0.8"/>
<circle cx="436.30" cy="127.60" r="4.09" fill="none" stroke="#8a8a8a" stroke-width="0.34" opacity="0.6"/>
<circle cx="446.30" cy="127.60" r="5.60" fill="url(#bg)" stroke="#3c3c3c" stroke-width="0.67"/>
<circle cx="446.30" cy="127.60" r="4.59" fill="none" stroke="#f0f0f0" stroke-width="0.50" opacity="0.8"/>
<circle cx="446.30" cy="127.60" r="4.09" fill="none" stroke="#8a8a8a" stroke-width="0.34" opacity="0.6"/>
<path d="M426.30,125.35 A14.70,5.50 0 0 0 455.70,125.35 L455.70,132.00 A14.70,5.50 0 0 1 426.30,132.00 Z" fill="#ffffff" opacity="0.18"/>
<path d="M426.30,122.50 A14.70,5.50 0 0 0 455.70,122.50" fill="none" stroke="#7e7a7a" stroke-width="0.95" opacity="0.85"/>
<path d="M427.40,123.40 A13.60,5.10 0 0 0 454.60,123.40" fill="none" stroke="#bcb8b8" stroke-width="0.6" opacity="0.9"/>
<path d="M426.30,122.50 L426.30,132.00 A14.70,5.50 0 0 0 455.70,132.00 L455.70,122.50" fill="none" stroke="#8a8686" stroke-width="0.8"/>
<path d="M427.30,127.72 A13.70,5.00 0 0 0 454.70,127.72" fill="none" stroke="#c6a0a0" stroke-width="0.7"/>
<path d="M457.70,123.80 L457.70,126.30 A14.40,5.50 0 0 0 486.50,126.30 L486.50,123.80 A14.40,5.50 0 0 0 457.70,123.80Z" fill="url(#pk)" stroke="#c9a5a5" stroke-width="0.5"/>
<path d="M457.70,116.30 A14.40,5.50 0 0 1 486.50,116.30" fill="none" stroke="#7e7a7a" stroke-width="1.0"/>
<path d="M458.90,116.60 A13.20,4.50 0 0 1 485.30,116.60" fill="none" stroke="#bdb9b9" stroke-width="0.6"/>
<circle cx="471.30" cy="115.80" r="5.60" fill="url(#bg)" stroke="#3c3c3c" stroke-width="0.67"/>
<circle cx="471.30" cy="115.80" r="4.59" fill="none" stroke="#f0f0f0" stroke-width="0.50" opacity="0.8"/>
<circle cx="471.30" cy="115.80" r="4.09" fill="none" stroke="#8a8a8a" stroke-width="0.34" opacity="0.6"/>
<rect x="468.22" y="114.51" width="6.16" height="2.35" fill="#aac458" stroke="#f4f4f4" stroke-width="0.39"/>
<rect x="469.14" y="115.36" width="4.31" height="0.66" fill="#e6f0c0" opacity="0.8"/>
<circle cx="466.30" cy="122.00" r="5.60" fill="url(#bg)" stroke="#3c3c3c" stroke-width="0.67"/>
<circle cx="466.30" cy="122.00" r="4.59" fill="none" stroke="#f0f0f0" stroke-width="0.50" opacity="0.8"/>
<circle cx="466.30" cy="122.00" r="4.09" fill="none" stroke="#8a8a8a" stroke-width="0.34" opacity="0.6"/>
<circle cx="476.30" cy="121.40" r="5.60" fill="url(#bg)" stroke="#3c3c3c" stroke-width="0.67"/>
<circle cx="476.30" cy="121.40" r="4.59" fill="none" stroke="#f0f0f0" stroke-width="0.50" opacity="0.8"/>
<circle cx="476.30" cy="121.40" r="4.09" fill="none" stroke="#8a8a8a" stroke-width="0.34" opacity="0.6"/>
<path d="M457.70,119.30 A14.40,5.50 0 0 0 486.50,119.30 L486.50,126.30 A14.40,5.50 0 0 1 457.70,126.30 Z" fill="#ffffff" opacity="0.18"/>
<path d="M457.70,116.30 A14.40,5.50 0 0 0 486.50,116.30" fill="none" stroke="#7e7a7a" stroke-width="0.95" opacity="0.85"/>
<path d="M458.80,117.20 A13.30,5.10 0 0 0 485.40,117.20" fill="none" stroke="#bcb8b8" stroke-width="0.6" opacity="0.9"/>
<path d="M457.70,116.30 L457.70,126.30 A14.40,5.50 0 0 0 486.50,126.30 L486.50,116.30" fill="none" stroke="#8a8686" stroke-width="0.8"/>
<path d="M458.70,121.80 A13.40,5.00 0 0 0 485.50,121.80" fill="none" stroke="#c6a0a0" stroke-width="0.7"/>
<polygon points="344.80,110.20 416.00,110.20 416.00,105.60 426.00,115.00 416.00,124.40 416.00,119.80 344.80,119.80" fill="#c8c4c4" stroke="#8a8686" stroke-width="0.8"/>
<text x="355.20" y="117.60" font-size="7.2" fill="#333" textLength="50.5" lengthAdjust="spacingAndGlyphs" stroke="#222" stroke-width="0.1">+3 days/+6 days</text>
<path d="M428.80,192.06 L428.80,198.00 A29.50,9.70 0 0 0 487.80,198.00 L487.80,192.06 A29.50,9.70 0 0 0 428.80,192.06Z" fill="url(#pk)" stroke="#c9a5a5" stroke-width="0.5"/>
<path d="M428.80,171.00 A29.50,9.70 0 0 1 487.80,171.00" fill="none" stroke="#7e7a7a" stroke-width="1.0"/>
<path d="M430.00,171.30 A28.30,8.70 0 0 1 486.60,171.30" fill="none" stroke="#bdb9b9" stroke-width="0.6"/>
<circle cx="457.00" cy="167.80" r="6.60" fill="url(#bg)" stroke="#3c3c3c" stroke-width="0.79"/>
<circle cx="457.00" cy="167.80" r="5.41" fill="none" stroke="#f0f0f0" stroke-width="0.59" opacity="0.8"/>
<circle cx="457.00" cy="167.80" r="4.82" fill="none" stroke="#8a8a8a" stroke-width="0.40" opacity="0.6"/>
<circle cx="448.50" cy="171.10" r="6.60" fill="url(#bg)" stroke="#3c3c3c" stroke-width="0.79"/>
<circle cx="448.50" cy="171.10" r="5.41" fill="none" stroke="#f0f0f0" stroke-width="0.59" opacity="0.8"/>
<circle cx="448.50" cy="171.10" r="4.82" fill="none" stroke="#8a8a8a" stroke-width="0.40" opacity="0.6"/>
<rect x="444.87" y="169.58" width="7.26" height="2.77" fill="#c65454" stroke="#f4f4f4" stroke-width="0.46"/>
<rect x="445.96" y="170.58" width="5.08" height="0.78" fill="#f2c8c8" opacity="0.8"/>
<circle cx="468.80" cy="170.40" r="6.60" fill="url(#bg)" stroke="#3c3c3c" stroke-width="0.79"/>
<circle cx="468.80" cy="170.40" r="5.41" fill="none" stroke="#f0f0f0" stroke-width="0.59" opacity="0.8"/>
<circle cx="468.80" cy="170.40" r="4.82" fill="none" stroke="#8a8a8a" stroke-width="0.40" opacity="0.6"/>
<rect x="465.17" y="168.88" width="7.26" height="2.77" fill="#c65454" stroke="#f4f4f4" stroke-width="0.46"/>
<rect x="466.26" y="169.88" width="5.08" height="0.78" fill="#f2c8c8" opacity="0.8"/>
<circle cx="476.00" cy="179.60" r="6.60" fill="url(#bg)" stroke="#3c3c3c" stroke-width="0.79"/>
<circle cx="476.00" cy="179.60" r="5.41" fill="none" stroke="#f0f0f0" stroke-width="0.59" opacity="0.8"/>
<circle cx="476.00" cy="179.60" r="4.82" fill="none" stroke="#8a8a8a" stroke-width="0.40" opacity="0.6"/>
<circle cx="438.70" cy="177.60" r="6.60" fill="url(#bg)" stroke="#3c3c3c" stroke-width="0.79"/>
<circle cx="438.70" cy="177.60" r="5.41" fill="none" stroke="#f0f0f0" stroke-width="0.59" opacity="0.8"/>
<circle cx="438.70" cy="177.60" r="4.82" fill="none" stroke="#8a8a8a" stroke-width="0.40" opacity="0.6"/>
<rect x="435.07" y="176.08" width="7.26" height="2.77" fill="#5580c8" stroke="#f4f4f4" stroke-width="0.46"/>
<rect x="436.16" y="177.08" width="5.08" height="0.78" fill="#c8daf4" opacity="0.8"/>
<circle cx="465.50" cy="181.50" r="6.60" fill="url(#bg)" stroke="#3c3c3c" stroke-width="0.79"/>
<circle cx="465.50" cy="181.50" r="5.41" fill="none" stroke="#f0f0f0" stroke-width="0.59" opacity="0.8"/>
<circle cx="465.50" cy="181.50" r="4.82" fill="none" stroke="#8a8a8a" stroke-width="0.40" opacity="0.6"/>
<circle cx="453.10" cy="179.60" r="6.60" fill="url(#bg)" stroke="#3c3c3c" stroke-width="0.79"/>
<circle cx="453.10" cy="179.60" r="5.41" fill="none" stroke="#f0f0f0" stroke-width="0.59" opacity="0.8"/>
<circle cx="453.10" cy="179.60" r="4.82" fill="none" stroke="#8a8a8a" stroke-width="0.40" opacity="0.6"/>
<rect x="449.47" y="178.08" width="7.26" height="2.77" fill="#aac458" stroke="#f4f4f4" stroke-width="0.46"/>
<rect x="450.56" y="179.08" width="5.08" height="0.78" fill="#e6f0c0" opacity="0.8"/>
<circle cx="443.30" cy="188.10" r="6.60" fill="url(#bg)" stroke="#3c3c3c" stroke-width="0.79"/>
<circle cx="443.30" cy="188.10" r="5.41" fill="none" stroke="#f0f0f0" stroke-width="0.59" opacity="0.8"/>
<circle cx="443.30" cy="188.10" r="4.82" fill="none" stroke="#8a8a8a" stroke-width="0.40" opacity="0.6"/>
<circle cx="455.10" cy="188.70" r="6.60" fill="url(#bg)" stroke="#3c3c3c" stroke-width="0.79"/>
<circle cx="455.10" cy="188.70" r="5.41" fill="none" stroke="#f0f0f0" stroke-width="0.59" opacity="0.8"/>
<circle cx="455.10" cy="188.70" r="4.82" fill="none" stroke="#8a8a8a" stroke-width="0.40" opacity="0.6"/>
<rect x="451.47" y="187.18" width="7.26" height="2.77" fill="#5580c8" stroke="#f4f4f4" stroke-width="0.46"/>
<rect x="452.56" y="188.18" width="5.08" height="0.78" fill="#c8daf4" opacity="0.8"/>
<circle cx="464.20" cy="197.20" r="6.60" fill="url(#bg)" stroke="#3c3c3c" stroke-width="0.79"/>
<circle cx="464.20" cy="197.20" r="5.41" fill="none" stroke="#f0f0f0" stroke-width="0.59" opacity="0.8"/>
<circle cx="464.20" cy="197.20" r="4.82" fill="none" stroke="#8a8a8a" stroke-width="0.40" opacity="0.6"/>
<circle cx="471.40" cy="190.70" r="6.60" fill="url(#bg)" stroke="#3c3c3c" stroke-width="0.79"/>
<circle cx="471.40" cy="190.70" r="5.41" fill="none" stroke="#f0f0f0" stroke-width="0.59" opacity="0.8"/>
<circle cx="471.40" cy="190.70" r="4.82" fill="none" stroke="#8a8a8a" stroke-width="0.40" opacity="0.6"/>
<rect x="467.77" y="189.18" width="7.26" height="2.77" fill="#aac458" stroke="#f4f4f4" stroke-width="0.46"/>
<rect x="468.86" y="190.18" width="5.08" height="0.78" fill="#e6f0c0" opacity="0.8"/>
<path d="M428.80,179.10 A29.50,9.70 0 0 0 487.80,179.10 L487.80,198.00 A29.50,9.70 0 0 1 428.80,198.00 Z" fill="#ffffff" opacity="0.15"/>
<path d="M428.80,171.00 A29.50,9.70 0 0 0 487.80,171.00" fill="none" stroke="#7e7a7a" stroke-width="0.95" opacity="0.85"/>
<path d="M429.90,171.90 A28.40,9.30 0 0 0 486.70,171.90" fill="none" stroke="#bcb8b8" stroke-width="0.6" opacity="0.9"/>
<path d="M428.80,171.00 L428.80,198.00 A29.50,9.70 0 0 0 487.80,198.00 L487.80,171.00" fill="none" stroke="#8a8686" stroke-width="0.8"/>
<path d="M429.80,185.85 A28.50,9.20 0 0 0 486.80,185.85" fill="none" stroke="#c6a0a0" stroke-width="0.7"/>
<polygon points="333.45,153.68 334.49,153.81 335.50,153.99 336.48,154.21 337.42,154.48 338.33,154.79 339.21,155.14 340.07,155.54 340.90,155.98 341.71,156.46 342.50,156.99 343.26,157.57 344.01,158.19 344.73,158.87 345.44,159.60 346.13,160.38 346.81,161.21 347.46,162.11 348.10,163.05 348.72,164.06 349.31,165.13 349.89,166.25 350.44,167.44 350.97,168.68 351.48,169.99 348.67,171.03 358.20,175.70 362.35,165.94 359.54,166.98 358.94,165.43 358.29,163.92 357.61,162.47 356.89,161.07 356.14,159.72 355.34,158.41 354.50,157.17 353.63,155.97 352.71,154.83 351.75,153.75 350.74,152.72 349.70,151.75 348.61,150.84 347.49,149.99 346.33,149.21 345.12,148.49 343.88,147.83 342.61,147.24 341.31,146.72 339.97,146.27 338.61,145.88 337.21,145.56 335.80,145.31 334.35,145.12" fill="#c6c2c2" stroke="#a19d9d" stroke-width="0.7" stroke-linejoin="miter"/>
<text x="0.00" y="0.00" font-size="7" fill="#222" text-anchor="middle" textLength="22" lengthAdjust="spacingAndGlyphs" stroke="#222" stroke-width="0.15" transform="translate(345.6,158.6) rotate(55)">+7 days</text>
<circle cx="373.10" cy="182.00" r="7.20" fill="url(#bg)" stroke="#3c3c3c" stroke-width="0.86"/>
<circle cx="373.10" cy="182.00" r="5.90" fill="none" stroke="#f0f0f0" stroke-width="0.65" opacity="0.8"/>
<circle cx="373.10" cy="182.00" r="5.26" fill="none" stroke="#8a8a8a" stroke-width="0.43" opacity="0.6"/>
<circle cx="362.70" cy="184.30" r="7.20" fill="url(#bg)" stroke="#3c3c3c" stroke-width="0.86"/>
<circle cx="362.70" cy="184.30" r="5.90" fill="none" stroke="#f0f0f0" stroke-width="0.65" opacity="0.8"/>
<circle cx="362.70" cy="184.30" r="5.26" fill="none" stroke="#8a8a8a" stroke-width="0.43" opacity="0.6"/>
<rect x="358.74" y="182.64" width="7.92" height="3.02" fill="#c65454" stroke="#f4f4f4" stroke-width="0.50"/>
<rect x="359.93" y="183.73" width="5.54" height="0.85" fill="#f2c8c8" opacity="0.8"/>
<circle cx="352.70" cy="191.60" r="7.20" fill="url(#bg)" stroke="#3c3c3c" stroke-width="0.86"/>
<circle cx="352.70" cy="191.60" r="5.90" fill="none" stroke="#f0f0f0" stroke-width="0.65" opacity="0.8"/>
<circle cx="352.70" cy="191.60" r="5.26" fill="none" stroke="#8a8a8a" stroke-width="0.43" opacity="0.6"/>
<rect x="348.74" y="189.94" width="7.92" height="3.02" fill="#5580c8" stroke="#f4f4f4" stroke-width="0.50"/>
<rect x="349.93" y="191.03" width="5.54" height="0.85" fill="#c8daf4" opacity="0.8"/>
<circle cx="360.80" cy="199.70" r="7.20" fill="url(#bg)" stroke="#3c3c3c" stroke-width="0.86"/>
<circle cx="360.80" cy="199.70" r="5.90" fill="none" stroke="#f0f0f0" stroke-width="0.65" opacity="0.8"/>
<circle cx="360.80" cy="199.70" r="5.26" fill="none" stroke="#8a8a8a" stroke-width="0.43" opacity="0.6"/>
<circle cx="376.20" cy="201.60" r="7.20" fill="url(#bg)" stroke="#3c3c3c" stroke-width="0.86"/>
<circle cx="376.20" cy="201.60" r="5.90" fill="none" stroke="#f0f0f0" stroke-width="0.65" opacity="0.8"/>
<circle cx="376.20" cy="201.60" r="5.26" fill="none" stroke="#8a8a8a" stroke-width="0.43" opacity="0.6"/>
<rect x="372.24" y="199.94" width="7.92" height="3.02" fill="#aac458" stroke="#f4f4f4" stroke-width="0.50"/>
<rect x="373.43" y="201.03" width="5.54" height="0.85" fill="#e6f0c0" opacity="0.8"/>
<circle cx="368.50" cy="193.90" r="7.20" fill="url(#bg)" stroke="#3c3c3c" stroke-width="0.86"/>
<circle cx="368.50" cy="193.90" r="5.90" fill="none" stroke="#f0f0f0" stroke-width="0.65" opacity="0.8"/>
<circle cx="368.50" cy="193.90" r="5.26" fill="none" stroke="#8a8a8a" stroke-width="0.43" opacity="0.6"/>
<text x="337.40" y="183.50" font-size="7.2" fill="#222" text-anchor="end" textLength="25.6" lengthAdjust="spacingAndGlyphs" stroke="#222" stroke-width="0.1">16 pools</text>
<text x="337.40" y="192.20" font-size="7.2" fill="#222" text-anchor="end" textLength="40.9" lengthAdjust="spacingAndGlyphs" stroke="#222" stroke-width="0.1">8 genes/pool</text>
<text x="337.40" y="200.70" font-size="7.2" fill="#222" text-anchor="end" textLength="63.6" lengthAdjust="spacingAndGlyphs" stroke="#222" stroke-width="0.1">each gene in 2 pools</text>
<polygon points="386.20,185.05 416.20,185.05 416.20,180.50 426.20,189.40 416.20,198.30 416.20,193.75 386.20,193.75" fill="#c8c4c4" stroke="#8a8686" stroke-width="0.8"/>
<text x="389.60" y="190.90" font-size="5.4" fill="#222" textLength="32.7" lengthAdjust="spacingAndGlyphs" stroke="#222" stroke-width="0.1">+2 days/+5 days</text>
<polygon points="453.80,215.00 464.20,215.00 464.20,231.70 470.00,231.70 458.90,242.90 447.60,231.70 453.80,231.70" fill="#c8c4c4" stroke="none" stroke-width="0"/>
<rect x="430" y="249.8" width="62" height="24.1" fill="#c6c1c1"/>
<text x="460.60" y="258.80" font-size="7.3" fill="#fff" text-anchor="middle" textLength="14.5" lengthAdjust="spacingAndGlyphs" stroke="#fff" stroke-width="0.12">FACS</text>
<text x="460.80" y="267.40" font-size="7.3" fill="#fff" text-anchor="middle" textLength="41.9" lengthAdjust="spacingAndGlyphs" stroke="#fff" stroke-width="0.12">gDNA(d6ptd)</text>
<text x="383.60" y="226.30" font-size="7.6" fill="#222" textLength="24.6" lengthAdjust="spacingAndGlyphs" stroke="#222" stroke-width="0.22">100 NSG</text>
<text x="383.60" y="235.10" font-size="7.6" fill="#222" textLength="52.9" lengthAdjust="spacingAndGlyphs" stroke="#222" stroke-width="0.22">5/pool + controls</text>
<text x="371.60" y="251.00" font-size="7.6" fill="#a8a4a4" textLength="38.6" lengthAdjust="spacingAndGlyphs" >73 NSG-SGM3</text>
<text x="371.60" y="259.50" font-size="7.6" fill="#a8a4a4" textLength="53.4" lengthAdjust="spacingAndGlyphs" >4/pool + controls</text>
<polygon points="365.50,215.01 365.99,216.31 366.39,217.57 366.70,218.79 366.92,219.97 367.06,221.11 367.12,222.21 367.10,223.29 367.00,224.33 366.82,225.35 366.57,226.35 366.24,227.34 365.83,228.32 365.34,229.30 364.76,230.27 364.09,231.24 363.32,232.21 362.46,233.18 361.49,234.14 360.43,235.10 359.26,236.06 357.98,237.00 356.61,237.94 355.12,238.87 353.53,239.78 352.08,237.16 348.20,247.30 358.85,249.41 357.40,246.79 359.23,245.73 360.97,244.64 362.62,243.52 364.17,242.37 365.64,241.17 367.00,239.94 368.27,238.67 369.45,237.36 370.52,236.00 371.49,234.60 372.35,233.16 373.10,231.67 373.73,230.15 374.25,228.59 374.65,227.00 374.93,225.38 375.08,223.74 375.12,222.08 375.03,220.42 374.83,218.74 374.51,217.06 374.08,215.37 373.54,213.68 372.90,211.99" fill="#c6c2c2" stroke="#a19d9d" stroke-width="0.7" stroke-linejoin="miter"/>
<path d="M200.80,269.50 C203.00,263.00 208.00,255.50 215.40,249.10 C221.00,244.50 228.00,243.00 235.00,243.60 C243.00,244.40 251.00,249.50 254.50,255.00 C257.50,259.50 258.30,265.00 257.30,270.60 L255.00,272.60 Q229.00,273.80 200.80,272.60 Z" fill="#fff" stroke="none"/>
<path d="M200.80,269.50 C203.00,263.00 208.00,255.50 215.40,249.10 C221.00,244.50 228.00,243.00 235.00,243.60 C243.00,244.40 251.00,249.50 254.50,255.00 C257.50,259.50 258.30,265.00 257.30,270.60" fill="none" stroke="#8a8686" stroke-width="1.15" stroke-linecap="round"/>
<path d="M200.80,272.60 Q229.00,274.20 257.50,272.20" fill="none" stroke="#8a8686" stroke-width="1.2" stroke-linecap="round"/>
<path d="M204.30,258.80 C203.80,254.50 206.00,250.80 209.50,250.40 C211.00,250.30 212.00,251.00 212.40,251.60" fill="none" stroke="#7e7a7a" stroke-width="1.2"/>
<path d="M214.40,255.70 C216.00,253.60 219.60,253.60 220.20,256.80 C220.50,259.00 218.00,260.50 215.40,260.90" fill="none" stroke="#c4c0c0" stroke-width="1.3"/>
<ellipse cx="209.90" cy="265.70" rx="1.0" ry="1.3" fill="#d23030"/>
<path d="M257.30,266.80 C259.50,263.80 264.50,262.60 268.20,265.20 C271.00,267.50 270.20,273.00 266.50,276.00 C262.00,279.50 256.50,282.00 253.50,285.50 C251.80,288.00 254.00,290.50 258.40,290.20 L266.00,289.60" fill="none" stroke="#8a8686" stroke-width="1.1" stroke-linecap="round"/>
<circle cx="245.40" cy="255.40" r="5.40" fill="url(#bg)" stroke="#3c3c3c" stroke-width="0.65"/>
<circle cx="245.40" cy="255.40" r="4.43" fill="none" stroke="#f0f0f0" stroke-width="0.49" opacity="0.8"/>
<circle cx="245.40" cy="255.40" r="3.94" fill="none" stroke="#8a8a8a" stroke-width="0.32" opacity="0.6"/>
<circle cx="235.60" cy="254.30" r="5.40" fill="url(#bg)" stroke="#3c3c3c" stroke-width="0.65"/>
<circle cx="235.60" cy="254.30" r="4.43" fill="none" stroke="#f0f0f0" stroke-width="0.49" opacity="0.8"/>
<circle cx="235.60" cy="254.30" r="3.94" fill="none" stroke="#8a8a8a" stroke-width="0.32" opacity="0.6"/>
<rect x="232.63" y="253.06" width="5.94" height="2.27" fill="#c65454" stroke="#f4f4f4" stroke-width="0.38"/>
<rect x="233.52" y="253.87" width="4.16" height="0.64" fill="#f2c8c8" opacity="0.8"/>
<circle cx="228.50" cy="260.30" r="5.40" fill="url(#bg)" stroke="#3c3c3c" stroke-width="0.65"/>
<circle cx="228.50" cy="260.30" r="4.43" fill="none" stroke="#f0f0f0" stroke-width="0.49" opacity="0.8"/>
<circle cx="228.50" cy="260.30" r="3.94" fill="none" stroke="#8a8a8a" stroke-width="0.32" opacity="0.6"/>
<rect x="225.53" y="259.06" width="5.94" height="2.27" fill="#c65454" stroke="#f4f4f4" stroke-width="0.38"/>
<rect x="226.42" y="259.87" width="4.16" height="0.64" fill="#f2c8c8" opacity="0.8"/>
<circle cx="234.50" cy="267.30" r="5.40" fill="url(#bg)" stroke="#3c3c3c" stroke-width="0.65"/>
<circle cx="234.50" cy="267.30" r="4.43" fill="none" stroke="#f0f0f0" stroke-width="0.49" opacity="0.8"/>
<circle cx="234.50" cy="267.30" r="3.94" fill="none" stroke="#8a8a8a" stroke-width="0.32" opacity="0.6"/>
<circle cx="245.40" cy="267.30" r="5.40" fill="url(#bg)" stroke="#3c3c3c" stroke-width="0.65"/>
<circle cx="245.40" cy="267.30" r="4.43" fill="none" stroke="#f0f0f0" stroke-width="0.49" opacity="0.8"/>
<circle cx="245.40" cy="267.30" r="3.94" fill="none" stroke="#8a8a8a" stroke-width="0.32" opacity="0.6"/>
<circle cx="239.40" cy="261.90" r="5.40" fill="url(#bg)" stroke="#3c3c3c" stroke-width="0.65"/>
<circle cx="239.40" cy="261.90" r="4.43" fill="none" stroke="#f0f0f0" stroke-width="0.49" opacity="0.8"/>
<circle cx="239.40" cy="261.90" r="3.94" fill="none" stroke="#8a8a8a" stroke-width="0.32" opacity="0.6"/>
<rect x="236.43" y="260.66" width="5.94" height="2.27" fill="#c65454" stroke="#f4f4f4" stroke-width="0.38"/>
<rect x="237.32" y="261.47" width="4.16" height="0.64" fill="#f2c8c8" opacity="0.8"/>
<path d="M303.40,271.10 C305.60,264.60 310.60,257.10 318.00,250.70 C323.60,246.10 330.60,244.60 337.60,245.20 C345.60,246.00 353.60,251.10 357.10,256.60 C360.10,261.10 360.90,266.60 359.90,272.20 L357.60,274.20 Q331.60,275.40 303.40,274.20 Z" fill="#fff" stroke="none"/>
<path d="M303.40,271.10 C305.60,264.60 310.60,257.10 318.00,250.70 C323.60,246.10 330.60,244.60 337.60,245.20 C345.60,246.00 353.60,251.10 357.10,256.60 C360.10,261.10 360.90,266.60 359.90,272.20" fill="none" stroke="#8a8686" stroke-width="1.15" stroke-linecap="round"/>
<path d="M303.40,274.20 Q331.60,275.80 360.10,273.80" fill="none" stroke="#8a8686" stroke-width="1.2" stroke-linecap="round"/>
<path d="M306.90,260.40 C306.40,256.10 308.60,252.40 312.10,252.00 C313.60,251.90 314.60,252.60 315.00,253.20" fill="none" stroke="#7e7a7a" stroke-width="1.2"/>
<path d="M317.00,257.30 C318.60,255.20 322.20,255.20 322.80,258.40 C323.10,260.60 320.60,262.10 318.00,262.50" fill="none" stroke="#c4c0c0" stroke-width="1.3"/>
<ellipse cx="312.50" cy="267.30" rx="1.0" ry="1.3" fill="#d23030"/>
<path d="M359.90,268.40 C362.10,265.40 367.10,264.20 370.80,266.80 C373.60,269.10 372.80,274.60 369.10,277.60 C364.60,281.10 359.10,283.60 356.10,287.10 C354.40,289.60 356.60,292.10 361.00,291.80 L368.60,291.20" fill="none" stroke="#8a8686" stroke-width="1.1" stroke-linecap="round"/>
<circle cx="347.50" cy="256.80" r="5.40" fill="url(#bg)" stroke="#3c3c3c" stroke-width="0.65"/>
<circle cx="347.50" cy="256.80" r="4.43" fill="none" stroke="#f0f0f0" stroke-width="0.49" opacity="0.8"/>
<circle cx="347.50" cy="256.80" r="3.94" fill="none" stroke="#8a8a8a" stroke-width="0.32" opacity="0.6"/>
<circle cx="337.70" cy="254.60" r="5.40" fill="url(#bg)" stroke="#3c3c3c" stroke-width="0.65"/>
<circle cx="337.70" cy="254.60" r="4.43" fill="none" stroke="#f0f0f0" stroke-width="0.49" opacity="0.8"/>
<circle cx="337.70" cy="254.60" r="3.94" fill="none" stroke="#8a8a8a" stroke-width="0.32" opacity="0.6"/>
<rect x="334.73" y="253.36" width="5.94" height="2.27" fill="#c65454" stroke="#f4f4f4" stroke-width="0.38"/>
<rect x="335.62" y="254.17" width="4.16" height="0.64" fill="#f2c8c8" opacity="0.8"/>
<circle cx="330.00" cy="261.90" r="5.40" fill="url(#bg)" stroke="#3c3c3c" stroke-width="0.65"/>
<circle cx="330.00" cy="261.90" r="4.43" fill="none" stroke="#f0f0f0" stroke-width="0.49" opacity="0.8"/>
<circle cx="330.00" cy="261.90" r="3.94" fill="none" stroke="#8a8a8a" stroke-width="0.32" opacity="0.6"/>
<rect x="327.03" y="260.66" width="5.94" height="2.27" fill="#5580c8" stroke="#f4f4f4" stroke-width="0.38"/>
<rect x="327.92" y="261.47" width="4.16" height="0.64" fill="#c8daf4" opacity="0.8"/>
<circle cx="335.80" cy="267.80" r="5.40" fill="url(#bg)" stroke="#3c3c3c" stroke-width="0.65"/>
<circle cx="335.80" cy="267.80" r="4.43" fill="none" stroke="#f0f0f0" stroke-width="0.49" opacity="0.8"/>
<circle cx="335.80" cy="267.80" r="3.94" fill="none" stroke="#8a8a8a" stroke-width="0.32" opacity="0.6"/>
<circle cx="348.20" cy="268.50" r="5.40" fill="url(#bg)" stroke="#3c3c3c" stroke-width="0.65"/>
<circle cx="348.20" cy="268.50" r="4.43" fill="none" stroke="#f0f0f0" stroke-width="0.49" opacity="0.8"/>
<circle cx="348.20" cy="268.50" r="3.94" fill="none" stroke="#8a8a8a" stroke-width="0.32" opacity="0.6"/>
<rect x="345.23" y="267.26" width="5.94" height="2.27" fill="#aac458" stroke="#f4f4f4" stroke-width="0.38"/>
<rect x="346.12" y="268.07" width="4.16" height="0.64" fill="#e6f0c0" opacity="0.8"/>
<circle cx="341.70" cy="262.70" r="5.40" fill="url(#bg)" stroke="#3c3c3c" stroke-width="0.65"/>
<circle cx="341.70" cy="262.70" r="4.43" fill="none" stroke="#f0f0f0" stroke-width="0.49" opacity="0.8"/>
<circle cx="341.70" cy="262.70" r="3.94" fill="none" stroke="#8a8a8a" stroke-width="0.32" opacity="0.6"/>
<polygon points="296.30,261.20 280.50,261.20 280.50,256.10 270.90,265.60 280.50,275.10 280.50,270.00 296.30,270.00" fill="#c8c4c4" stroke="#8a8686" stroke-width="0.8"/>
<text x="284.20" y="240.00" font-size="7.4" fill="#222" text-anchor="middle" textLength="12.7" lengthAdjust="spacingAndGlyphs" stroke="#222" stroke-width="0.2">20w</text>
<text x="284.60" y="248.60" font-size="7.4" fill="#a8a4a4" text-anchor="middle" font-style="italic" textLength="23.3" lengthAdjust="spacingAndGlyphs" >or 4.5w</text>
<rect x="123.8" y="210" width="62.3" height="48.8" fill="#c6c1c1"/>
<text x="155.30" y="218.70" font-size="7.3" fill="#fff" text-anchor="middle" textLength="14.7" lengthAdjust="spacingAndGlyphs" stroke="#fff" stroke-width="0.12">FACS</text>
<text x="155.30" y="227.70" font-size="7.3" fill="#fff" text-anchor="middle" textLength="37.7" lengthAdjust="spacingAndGlyphs" stroke="#fff" stroke-width="0.12">CD45+BFP+</text>
<text x="155.30" y="236.30" font-size="7.3" fill="#fff" text-anchor="middle" textLength="42.2" lengthAdjust="spacingAndGlyphs" stroke="#fff" stroke-width="0.12">gDNA/ddPCR</text>
<text x="155.30" y="245.30" font-size="7.3" fill="#fff" text-anchor="middle" textLength="14.2" lengthAdjust="spacingAndGlyphs" stroke="#fff" stroke-width="0.12">total</text>
<text x="155.30" y="254.00" font-size="7.3" fill="#fff" text-anchor="middle" textLength="37.7" lengthAdjust="spacingAndGlyphs" stroke="#fff" stroke-width="0.12">CD34+BFP+</text>
<polygon points="190.00,262.00 121.30,262.00 121.30,258.00 113.10,266.00 121.30,274.00 121.30,270.00 190.00,270.00" fill="#c8c4c4" stroke="#8a8686" stroke-width="0.8"/>
<text x="7.60" y="314.20" font-size="11" fill="#111" >B</text>
<rect x="46.6" y="317.7" width="176.4" height="165.6" fill="#c9c4c4"/>
<rect x="46.6" y="317.7" width="19.9" height="122.0" fill="#e8b83e"/>
<rect x="46.6" y="439.7" width="19.9" height="43.6" fill="#9e9a9a"/>
<line x1="66.6" y1="317.7" x2="66.6" y2="483.3" stroke="#222" stroke-width="0.9" stroke-dasharray="0.9,0.9"/>
<line x1="46.6" y1="439.7" x2="223" y2="439.7" stroke="#222" stroke-width="1.1" stroke-dasharray="1,0.9"/>
<rect x="162.3" y="317.7" width="60.6" height="73.8" fill="#fff" stroke="#d0cccc" stroke-width="0.5"/>
<text x="192.40" y="324.70" font-size="5.2" fill="#333" text-anchor="middle" textLength="37" lengthAdjust="spacingAndGlyphs" ># mice with gene</text>
<text x="192.40" y="330.90" font-size="5.2" fill="#333" text-anchor="middle" textLength="42" lengthAdjust="spacingAndGlyphs" >abundance &gt;12.5%</text>
<rect x="180.1" y="336.8" width="3" height="3" fill="none" stroke="#3f6d58" stroke-width="0.8"/>
<circle cx="181.6" cy="351.5" r="1.7" fill="#3f6d58"/>
<text x="188.60" y="353.30" font-size="5.2" fill="#333" >2</text>
<circle cx="181.6" cy="356.9" r="2.0" fill="#3f6d58"/>
<text x="188.60" y="358.70" font-size="5.2" fill="#333" >3</text>
<circle cx="181.6" cy="363" r="2.5" fill="#3f6d58"/>
<text x="188.60" y="364.80" font-size="5.2" fill="#333" >4</text>
<circle cx="181.6" cy="369.6" r="3.0" fill="#3f6d58"/>
<text x="188.60" y="371.40" font-size="5.2" fill="#333" >5</text>
<circle cx="181.6" cy="377.7" r="3.8" fill="#3f6d58"/>
<text x="188.60" y="379.50" font-size="5.2" fill="#333" >7</text>
<text x="188.60" y="340.10" font-size="5.2" fill="#333" >1</text>
<circle cx="181.6" cy="385.6" r="0.8" fill="#3f6d58"/>
<text x="188.60" y="387.40" font-size="5.2" fill="#333" font-style="italic" textLength="28.5" lengthAdjust="spacingAndGlyphs" >not adjusted</text>
<circle cx="47.2" cy="444" r="0.85" fill="#3f6d58"/>
<circle cx="52" cy="446" r="0.85" fill="#3f6d58"/>
<circle cx="47.2" cy="453" r="0.85" fill="#3f6d58"/>
<circle cx="49.5" cy="458" r="0.85" fill="#3f6d58"/>
<circle cx="56.4" cy="459" r="0.85" fill="#3f6d58"/>
<circle cx="55.6" cy="465.3" r="0.85" fill="#3f6d58"/>
<circle cx="51.3" cy="470" r="0.85" fill="#3f6d58"/>
<circle cx="56.4" cy="470.3" r="0.85" fill="#3f6d58"/>
<circle cx="48" cy="473" r="0.85" fill="#3f6d58"/>
<circle cx="53.5" cy="475" r="0.85" fill="#3f6d58"/>
<circle cx="54.5" cy="477" r="0.85" fill="#3f6d58"/>
<circle cx="59.7" cy="477" r="0.85" fill="#3f6d58"/>
<circle cx="51" cy="482" r="0.85" fill="#3f6d58"/>
<circle cx="54" cy="478.5" r="0.85" fill="#3f6d58"/>
<circle cx="58" cy="481.5" r="0.85" fill="#3f6d58"/>
<circle cx="62.5" cy="475" r="0.85" fill="#3f6d58"/>
<circle cx="66.6" cy="471" r="0.85" fill="#3f6d58"/>
<circle cx="66.4" cy="482" r="0.85" fill="#3f6d58"/>
<circle cx="47.5" cy="466" r="0.85" fill="#3f6d58"/>
<circle cx="54.5" cy="448.5" r="0.85" fill="#3f6d58"/>
<circle cx="51" cy="440.5" r="0.85" fill="#3f6d58"/>
<circle cx="57" cy="438.5" r="0.85" fill="#3f6d58"/>
<circle cx="60.5" cy="483" r="0.85" fill="#3f6d58"/>
<circle cx="63.5" cy="463" r="0.85" fill="#3f6d58"/>
<line x1="46.3" y1="316.5" x2="46.3" y2="484" stroke="#222" stroke-width="1.3"/>
<line x1="43" y1="483.4" x2="226" y2="483.4" stroke="#222" stroke-width="1.3"/>
<line x1="43" y1="483.30" x2="46.3" y2="483.30" stroke="#222" stroke-width="0.9"/>
<text x="40.00" y="485.50" font-size="6.3" fill="#222" text-anchor="end" >0</text>
<line x1="43" y1="441.90" x2="46.3" y2="441.90" stroke="#222" stroke-width="0.9"/>
<text x="40.00" y="444.10" font-size="6.3" fill="#222" text-anchor="end" >50</text>
<line x1="43" y1="400.50" x2="46.3" y2="400.50" stroke="#222" stroke-width="0.9"/>
<text x="40.00" y="402.70" font-size="6.3" fill="#222" text-anchor="end" >100</text>
<line x1="43" y1="359.10" x2="46.3" y2="359.10" stroke="#222" stroke-width="0.9"/>
<text x="40.00" y="361.30" font-size="6.3" fill="#222" text-anchor="end" >150</text>
<line x1="43" y1="317.70" x2="46.3" y2="317.70" stroke="#222" stroke-width="0.9"/>
<text x="40.00" y="319.90" font-size="6.3" fill="#222" text-anchor="end" >200</text>
<line x1="46.20" y1="483.4" x2="46.20" y2="486.5" stroke="#222" stroke-width="0.9"/>
<text x="46.20" y="494.50" font-size="6.3" fill="#222" text-anchor="middle" >0</text>
<line x1="90.40" y1="483.4" x2="90.40" y2="486.5" stroke="#222" stroke-width="0.9"/>
<text x="90.40" y="494.50" font-size="6.3" fill="#222" text-anchor="middle" >5</text>
<line x1="134.60" y1="483.4" x2="134.60" y2="486.5" stroke="#222" stroke-width="0.9"/>
<text x="134.60" y="494.50" font-size="6.3" fill="#222" text-anchor="middle" >10</text>
<line x1="178.80" y1="483.4" x2="178.80" y2="486.5" stroke="#222" stroke-width="0.9"/>
<text x="178.80" y="494.50" font-size="6.3" fill="#222" text-anchor="middle" >15</text>
<line x1="223.00" y1="483.4" x2="223.00" y2="486.5" stroke="#222" stroke-width="0.9"/>
<text x="223.00" y="494.50" font-size="6.3" fill="#222" text-anchor="middle" >20</text>
<text x="0" y="0" font-size="8.8" fill="#1a1a1a" transform="translate(70.00,506.80) scale(0.9028,1)" stroke="#1a1a1a" stroke-width="0.15"><tspan>CD34</tspan><tspan font-size="5.6" dy="-3.4">+</tspan><tspan dy="3.4">CD38</tspan><tspan font-size="5.6" dy="-3.4">+</tspan><tspan dy="3.4"> progenitor screen score</tspan></text>
<text x="0" y="0" font-size="8.8" fill="#1a1a1a" text-anchor="middle" transform="translate(18.30,399.00) rotate(-90) scale(0.8771,1)" stroke="#1a1a1a" stroke-width="0.15"><tspan>CD34</tspan><tspan font-size="5.6" dy="-3.4">+</tspan><tspan dy="3.4">CD38</tspan><tspan font-size="5.6" dy="-3.4">−</tspan><tspan dy="3.4"> stem screen score</tspan></text>
<circle cx="103.6" cy="338.7" r="3.9" fill="#3f6d58"/>
<text x="109.00" y="340.20" font-size="5.3" fill="#6a7ca6" textLength="16.4" lengthAdjust="spacingAndGlyphs" >MMP28</text>
<circle cx="46.5" cy="358.8" r="1.8" fill="#3f6d58"/>
<text x="49.00" y="355.30" font-size="5.3" fill="#6a7ca6" textLength="17.4" lengthAdjust="spacingAndGlyphs" >PHGDH</text>
<circle cx="49.6" cy="377.8" r="2.9" fill="#3f6d58"/>
<text x="52.00" y="374.30" font-size="5.3" fill="#6a7ca6" textLength="11.5" lengthAdjust="spacingAndGlyphs" >BIVM</text>
<circle cx="93.1" cy="407.7" r="2.3" fill="#3f6d58"/>
<text x="95.40" y="403.50" font-size="5.3" fill="#6a7ca6" textLength="11.5" lengthAdjust="spacingAndGlyphs" >CAV1</text>
<circle cx="87.4" cy="416.2" r="2.8" fill="#3f6d58"/>
<text x="92.30" y="418.50" font-size="5.3" fill="#6a7ca6" textLength="15.4" lengthAdjust="spacingAndGlyphs" >SPINK2</text>
<circle cx="46.5" cy="417.2" r="2.5" fill="#3f6d58"/>
<text x="45.40" y="414.60" font-size="5.3" fill="#6a7ca6" text-anchor="end" textLength="16.5" lengthAdjust="spacingAndGlyphs" >SMYD1</text>
<circle cx="64.6" cy="420" r="2.2" fill="#3f6d58"/>
<text x="51.50" y="416.50" font-size="5.3" fill="#6a7ca6" textLength="20.8" lengthAdjust="spacingAndGlyphs" >C3ORF54</text>
<text x="66.00" y="423.00" font-size="5.3" fill="#6a7ca6" textLength="13" lengthAdjust="spacingAndGlyphs" >EGFL7</text>
<circle cx="60" cy="427" r="2.2" fill="#3f6d58"/>
<text x="62.30" y="430.80" font-size="5.3" fill="#6a7ca6" textLength="8.5" lengthAdjust="spacingAndGlyphs" >KLL1</text>
<circle cx="47" cy="427.7" r="1.8" fill="#3f6d58"/>
<text x="45.20" y="429.20" font-size="5.3" fill="#6a7ca6" text-anchor="end" textLength="14.6" lengthAdjust="spacingAndGlyphs" >CYTL1</text>
<circle cx="47" cy="432.8" r="1.8" fill="#3f6d58"/>
<text x="45.20" y="436.50" font-size="5.3" fill="#6a7ca6" text-anchor="end" textLength="21.8" lengthAdjust="spacingAndGlyphs" >SERPING1</text>
<text x="45.20" y="422.00" font-size="5.3" fill="#6a7ca6" text-anchor="end" textLength="12.8" lengthAdjust="spacingAndGlyphs" >CD34</text>
<circle cx="56.6" cy="438.9" r="3.2" fill="#3f6d58"/>
<text x="60.30" y="437.00" font-size="5.3" fill="#6a7ca6" textLength="21.2" lengthAdjust="spacingAndGlyphs" >LAPTM4B</text>
<circle cx="92" cy="437" r="2.5" fill="#3f6d58"/>
<text x="95.80" y="437.00" font-size="5.3" fill="#6a7ca6" textLength="11.9" lengthAdjust="spacingAndGlyphs" >EMP1</text>
<circle cx="130.8" cy="438.2" r="2.2" fill="#3f6d58"/>
<text x="133.00" y="436.60" font-size="5.3" fill="#6a7ca6" textLength="11.6" lengthAdjust="spacingAndGlyphs" >SDC2</text>
<circle cx="163.8" cy="437.7" r="2.2" fill="#3f6d58"/>
<text x="167.00" y="437.20" font-size="5.3" fill="#6a7ca6" textLength="18" lengthAdjust="spacingAndGlyphs" >SMIM24</text>
<circle cx="97.5" cy="455" r="2" fill="#3f6d58"/>
<text x="99.40" y="451.20" font-size="5.3" fill="#6a7ca6" textLength="22.5" lengthAdjust="spacingAndGlyphs" >LGALS3BP</text>
<circle cx="87.5" cy="460.8" r="1.8" fill="#3f6d58"/>
<text x="90.80" y="461.20" font-size="5.3" fill="#6a7ca6" textLength="17.7" lengthAdjust="spacingAndGlyphs" >KCNK17</text>
<circle cx="108.7" cy="464.4" r="1.8" fill="#3f6d58"/>
<text x="112.30" y="465.40" font-size="5.3" fill="#6a7ca6" textLength="11.2" lengthAdjust="spacingAndGlyphs" >CCL1</text>
<circle cx="78.7" cy="469.8" r="2.5" fill="#3f6d58"/>
<text x="82.70" y="470.80" font-size="5.3" fill="#6a7ca6" textLength="21.1" lengthAdjust="spacingAndGlyphs" >ALDH1A1</text>
<circle cx="79.6" cy="476" r="2" fill="#3f6d58"/>
<text x="70.60" y="481.30" font-size="5.3" fill="#6a7ca6" textLength="16.3" lengthAdjust="spacingAndGlyphs" >ATP8B4</text>
<circle cx="95.6" cy="479.4" r="2.2" fill="#3f6d58"/>
<text x="97.50" y="476.50" font-size="5.3" fill="#6a7ca6" textLength="11.5" lengthAdjust="spacingAndGlyphs" >EGR1</text>
<circle cx="111.3" cy="480.4" r="2" fill="#3f6d58"/>
<text x="113.50" y="477.50" font-size="5.3" fill="#6a7ca6" textLength="15.7" lengthAdjust="spacingAndGlyphs" >HOXA5</text>
<text x="134.60" y="480.00" font-size="5.3" fill="#6a7ca6" textLength="16.7" lengthAdjust="spacingAndGlyphs" >ATP1B1</text>
<circle cx="201.7" cy="483" r="2.2" fill="#3f6d58"/>
<text x="203.80" y="479.00" font-size="5.3" fill="#6a7ca6" textLength="15.7" lengthAdjust="spacingAndGlyphs" >HOXA4</text>
<circle cx="52" cy="421" r="2.5" fill="#b02238"/>
<rect x="131.2" y="481.8" width="3" height="3" fill="none" stroke="#8a4a8a" stroke-width="0.8"/>
<text x="241.90" y="314.60" font-size="11" fill="#111" >C</text>
<circle cx="382" cy="323.1" r="2" fill="#2f5086"/>
<text x="386.20" y="324.80" font-size="5.6" fill="#333" textLength="14" lengthAdjust="spacingAndGlyphs" >4 wks</text>
<circle cx="410.3" cy="323.1" r="1.8" fill="#f2c43e" stroke="#2e3c62" stroke-width="0.6"/>
<text x="414.60" y="324.80" font-size="5.6" fill="#333" textLength="16.5" lengthAdjust="spacingAndGlyphs" >20 wks</text>
<text x="0" y="0" font-size="8.7" fill="#1a1a1a" text-anchor="middle" transform="translate(249.30,405.30) rotate(-90) scale(0.8904,1)" stroke="#1a1a1a" stroke-width="0.12"><tspan>Log</tspan><tspan font-size="5.8" dy="2">2</tspan><tspan dy="-2"> ratio % BFP+</tspan></text>
<text x="0" y="0" font-size="8.7" fill="#1a1a1a" text-anchor="middle" transform="translate(258.20,405.35) rotate(-90) scale(0.9396,1)" stroke="#1a1a1a" stroke-width="0.12"><tspan>(in vivo output / in vitro input)</tspan></text>
<line x1="327.50" y1="365.8" x2="327.50" y2="444.5" stroke="#c8c4c4" stroke-width="0.9"/>
<line x1="357.90" y1="365.8" x2="357.90" y2="444.5" stroke="#c8c4c4" stroke-width="0.9"/>
<line x1="388.30" y1="365.8" x2="388.30" y2="444.5" stroke="#c8c4c4" stroke-width="0.9"/>
<line x1="418.70" y1="365.8" x2="418.70" y2="444.5" stroke="#c8c4c4" stroke-width="0.9"/>
<line x1="449.10" y1="365.8" x2="449.10" y2="444.5" stroke="#c8c4c4" stroke-width="0.9"/>
<line x1="479.50" y1="365.8" x2="479.50" y2="444.5" stroke="#c8c4c4" stroke-width="0.9"/>
<line x1="300" y1="399.4" x2="512" y2="399.4" stroke="#8a8686" stroke-width="0.6" stroke-dasharray="1.6,1"/>
<text x="293.20" y="401.80" font-size="6.4" fill="#a09c9c" text-anchor="end" textLength="25.5" lengthAdjust="spacingAndGlyphs" >CTRL 20w</text>
<line x1="299.6" y1="393.4" x2="512.5" y2="393.4" stroke="#333" stroke-width="0.8"/>
<path d="M308.3,376.6 V336.4 H490.1 V380.6" fill="none" stroke="#222" stroke-width="0.8"/>
<path d="M308.3,347.1 H459.8 V380.6" fill="none" stroke="#222" stroke-width="0.8"/>
<path d="M319.5,376.6 V356 H411.2 V373.5" fill="none" stroke="#222" stroke-width="0.8"/>
<path d="M319.5,363 H351.7 V373.5" fill="none" stroke="#222" stroke-width="0.8"/>
<text x="399.20" y="337.20" font-size="5.5" fill="#222" text-anchor="middle" >***</text>
<text x="384.00" y="346.10" font-size="5.5" fill="#222" text-anchor="middle" >***</text>
<text x="365.50" y="355.00" font-size="5.5" fill="#222" text-anchor="middle" >*</text>
<text x="335.70" y="362.00" font-size="5.5" fill="#222" text-anchor="middle" >*</text>
<circle cx="306.5" cy="384.3" r="1.8" fill="#2f5086"/>
<circle cx="310.7" cy="384.1" r="1.8" fill="#2f5086"/>
<circle cx="306.5" cy="386.4" r="1.8" fill="#2f5086"/>
<circle cx="311" cy="386.4" r="1.8" fill="#2f5086"/>
<circle cx="307.3" cy="388.5" r="1.8" fill="#2f5086"/>
<circle cx="309.9" cy="388.5" r="1.8" fill="#2f5086"/>
<circle cx="306.8" cy="390.5" r="1.8" fill="#2f5086"/>
<circle cx="309.9" cy="391.1" r="1.8" fill="#2f5086"/>
<circle cx="308.4" cy="392.6" r="1.8" fill="#2f5086"/>
<circle cx="306.3" cy="393.2" r="1.8" fill="#2f5086"/>
<circle cx="310.5" cy="393.2" r="1.8" fill="#2f5086"/>
<circle cx="307.3" cy="395.2" r="1.8" fill="#2f5086"/>
<circle cx="309.9" cy="395.6" r="1.8" fill="#2f5086"/>
<circle cx="306.3" cy="397.3" r="1.8" fill="#2f5086"/>
<circle cx="308.9" cy="397.3" r="1.8" fill="#2f5086"/>
<circle cx="311" cy="396.8" r="1.8" fill="#2f5086"/>
<circle cx="306.8" cy="399.4" r="1.8" fill="#2f5086"/>
<circle cx="310.5" cy="400" r="1.8" fill="#2f5086"/>
<circle cx="307.8" cy="404.7" r="1.8" fill="#2f5086"/>
<circle cx="310.5" cy="408.1" r="1.8" fill="#2f5086"/>
<circle cx="307.1" cy="411.2" r="1.8" fill="#2f5086"/>
<circle cx="308.9" cy="412" r="1.8" fill="#2f5086"/>
<circle cx="310.5" cy="413" r="1.8" fill="#2f5086"/>
<circle cx="306.8" cy="417.2" r="1.8" fill="#2f5086"/>
<circle cx="337.4" cy="384.2" r="1.8" fill="#2f5086"/>
<circle cx="337.9" cy="389" r="1.8" fill="#2f5086"/>
<circle cx="341.2" cy="387.6" r="1.8" fill="#2f5086"/>
<circle cx="340.6" cy="391" r="1.8" fill="#2f5086"/>
<circle cx="339.2" cy="393.7" r="1.8" fill="#2f5086"/>
<circle cx="338.5" cy="396.5" r="1.8" fill="#2f5086"/>
<circle cx="340.5" cy="397.5" r="1.8" fill="#2f5086"/>
<circle cx="339.5" cy="398.5" r="1.8" fill="#2f5086"/>
<circle cx="337.2" cy="403.6" r="1.8" fill="#2f5086"/>
<circle cx="339.4" cy="403.6" r="1.8" fill="#2f5086"/>
<circle cx="341.2" cy="408.7" r="1.8" fill="#2f5086"/>
<circle cx="339.2" cy="417.5" r="1.8" fill="#2f5086"/>
<circle cx="369.7" cy="379.2" r="1.8" fill="#2f5086"/>
<circle cx="371.1" cy="388.3" r="1.8" fill="#2f5086"/>
<circle cx="368.4" cy="391" r="1.8" fill="#2f5086"/>
<circle cx="367.8" cy="403.2" r="1.8" fill="#2f5086"/>
<circle cx="369.5" cy="404.8" r="1.8" fill="#2f5086"/>
<circle cx="371.2" cy="402.8" r="1.8" fill="#2f5086"/>
<circle cx="368.8" cy="405.5" r="1.8" fill="#2f5086"/>
<circle cx="370.6" cy="406" r="1.8" fill="#2f5086"/>
<circle cx="370.1" cy="420.5" r="1.8" fill="#2f5086"/>
<circle cx="369.7" cy="433.1" r="1.8" fill="#2f5086"/>
<circle cx="398.5" cy="388.6" r="1.8" fill="#2f5086"/>
<circle cx="401.8" cy="389" r="1.8" fill="#2f5086"/>
<circle cx="398.3" cy="391.5" r="1.8" fill="#2f5086"/>
<circle cx="401" cy="392" r="1.8" fill="#2f5086"/>
<circle cx="399.2" cy="394.5" r="1.8" fill="#2f5086"/>
<circle cx="401.8" cy="395" r="1.8" fill="#2f5086"/>
<circle cx="398.6" cy="397.2" r="1.8" fill="#2f5086"/>
<circle cx="400.8" cy="398" r="1.8" fill="#2f5086"/>
<circle cx="400.4" cy="403.5" r="1.8" fill="#2f5086"/>
<circle cx="400.4" cy="414.4" r="1.8" fill="#2f5086"/>
<circle cx="400.4" cy="430.4" r="1.8" fill="#2f5086"/>
<circle cx="433.1" cy="387.5" r="1.8" fill="#2f5086"/>
<circle cx="429.5" cy="390" r="1.8" fill="#2f5086"/>
<circle cx="431.5" cy="391" r="1.8" fill="#2f5086"/>
<circle cx="430.8" cy="392.8" r="1.8" fill="#2f5086"/>
<circle cx="432.5" cy="394.5" r="1.8" fill="#2f5086"/>
<circle cx="429.8" cy="394" r="1.8" fill="#2f5086"/>
<circle cx="432.2" cy="396.5" r="1.8" fill="#2f5086"/>
<circle cx="431.2" cy="398" r="1.8" fill="#2f5086"/>
<circle cx="430.5" cy="403.5" r="1.8" fill="#2f5086"/>
<circle cx="458.5" cy="398.6" r="1.8" fill="#2f5086"/>
<circle cx="461" cy="398.2" r="1.8" fill="#2f5086"/>
<circle cx="463.2" cy="399.5" r="1.8" fill="#2f5086"/>
<circle cx="457.9" cy="400.8" r="1.8" fill="#2f5086"/>
<circle cx="463.6" cy="401.8" r="1.8" fill="#2f5086"/>
<circle cx="458.4" cy="403.2" r="1.8" fill="#2f5086"/>
<circle cx="460.8" cy="404.6" r="1.8" fill="#2f5086"/>
<circle cx="463" cy="404" r="1.8" fill="#2f5086"/>
<circle cx="462" cy="408.4" r="1.8" fill="#2f5086"/>
<circle cx="459.6" cy="412.8" r="1.8" fill="#2f5086"/>
<circle cx="462.7" cy="413.4" r="1.8" fill="#2f5086"/>
<circle cx="461.2" cy="416.5" r="1.8" fill="#2f5086"/>
<circle cx="489.9" cy="392.9" r="1.8" fill="#2f5086"/>
<circle cx="492.2" cy="393.7" r="1.8" fill="#2f5086"/>
<circle cx="490.3" cy="395.8" r="1.8" fill="#2f5086"/>
<circle cx="493.4" cy="396.5" r="1.8" fill="#2f5086"/>
<circle cx="490.6" cy="398.8" r="1.8" fill="#2f5086"/>
<circle cx="493" cy="399.8" r="1.8" fill="#2f5086"/>
<circle cx="490.5" cy="401.5" r="1.8" fill="#2f5086"/>
<circle cx="492.8" cy="402.6" r="1.8" fill="#2f5086"/>
<circle cx="492.2" cy="408.4" r="1.8" fill="#2f5086"/>
<circle cx="492.2" cy="413.1" r="1.8" fill="#2f5086"/>
<circle cx="490.7" cy="413.9" r="1.8" fill="#2f5086"/>
<circle cx="489.6" cy="420.1" r="1.8" fill="#2f5086"/>
<circle cx="493.5" cy="423.6" r="1.8" fill="#2f5086"/>
<circle cx="493.5" cy="428.3" r="1.8" fill="#2f5086"/>
<circle cx="488" cy="432" r="1.8" fill="#2f5086"/>
<circle cx="489.9" cy="435.6" r="1.8" fill="#2f5086"/>
<circle cx="494.2" cy="437.1" r="1.8" fill="#2f5086"/>
<circle cx="493" cy="439.5" r="1.8" fill="#2f5086"/>
<circle cx="489.6" cy="442.6" r="1.8" fill="#2f5086"/>
<circle cx="318" cy="383.4" r="1.7" fill="#f2c43e" stroke="#2e3c62" stroke-width="0.75"/>
<circle cx="322.5" cy="383.7" r="1.7" fill="#f2c43e" stroke="#2e3c62" stroke-width="0.75"/>
<circle cx="318.6" cy="386.9" r="1.7" fill="#f2c43e" stroke="#2e3c62" stroke-width="0.75"/>
<circle cx="320.9" cy="387.9" r="1.7" fill="#f2c43e" stroke="#2e3c62" stroke-width="0.75"/>
<circle cx="322.5" cy="388.2" r="1.7" fill="#f2c43e" stroke="#2e3c62" stroke-width="0.75"/>
<circle cx="319.3" cy="391.1" r="1.7" fill="#f2c43e" stroke="#2e3c62" stroke-width="0.75"/>
<circle cx="322.2" cy="390.5" r="1.7" fill="#f2c43e" stroke="#2e3c62" stroke-width="0.75"/>
<circle cx="318.8" cy="393.7" r="1.7" fill="#f2c43e" stroke="#2e3c62" stroke-width="0.75"/>
<circle cx="321.4" cy="393.9" r="1.7" fill="#f2c43e" stroke="#2e3c62" stroke-width="0.75"/>
<circle cx="318.3" cy="396.3" r="1.7" fill="#f2c43e" stroke="#2e3c62" stroke-width="0.75"/>
<circle cx="320.9" cy="396.6" r="1.7" fill="#f2c43e" stroke="#2e3c62" stroke-width="0.75"/>
<circle cx="317.8" cy="398.9" r="1.7" fill="#f2c43e" stroke="#2e3c62" stroke-width="0.75"/>
<circle cx="322" cy="398.4" r="1.7" fill="#f2c43e" stroke="#2e3c62" stroke-width="0.75"/>
<circle cx="319.3" cy="401" r="1.7" fill="#f2c43e" stroke="#2e3c62" stroke-width="0.75"/>
<circle cx="321.4" cy="401.5" r="1.7" fill="#f2c43e" stroke="#2e3c62" stroke-width="0.75"/>
<circle cx="318.3" cy="403.6" r="1.7" fill="#f2c43e" stroke="#2e3c62" stroke-width="0.75"/>
<circle cx="322" cy="403.3" r="1.7" fill="#f2c43e" stroke="#2e3c62" stroke-width="0.75"/>
<circle cx="320.4" cy="406.2" r="1.7" fill="#f2c43e" stroke="#2e3c62" stroke-width="0.75"/>
<circle cx="319.3" cy="405.2" r="1.7" fill="#f2c43e" stroke="#2e3c62" stroke-width="0.75"/>
<circle cx="322" cy="414.1" r="1.7" fill="#f2c43e" stroke="#2e3c62" stroke-width="0.75"/>
<circle cx="318.8" cy="415.4" r="1.7" fill="#f2c43e" stroke="#2e3c62" stroke-width="0.75"/>
<circle cx="320.7" cy="417.5" r="1.7" fill="#f2c43e" stroke="#2e3c62" stroke-width="0.75"/>
<circle cx="320.7" cy="428" r="1.7" fill="#f2c43e" stroke="#2e3c62" stroke-width="0.75"/>
<circle cx="352.8" cy="378.8" r="1.7" fill="#f2c43e" stroke="#2e3c62" stroke-width="0.75"/>
<circle cx="348" cy="381.5" r="1.7" fill="#f2c43e" stroke="#2e3c62" stroke-width="0.75"/>
<circle cx="350.7" cy="381.5" r="1.7" fill="#f2c43e" stroke="#2e3c62" stroke-width="0.75"/>
<circle cx="348.7" cy="386" r="1.7" fill="#f2c43e" stroke="#2e3c62" stroke-width="0.75"/>
<circle cx="352.8" cy="387.4" r="1.7" fill="#f2c43e" stroke="#2e3c62" stroke-width="0.75"/>
<circle cx="350.7" cy="395.1" r="1.7" fill="#f2c43e" stroke="#2e3c62" stroke-width="0.75"/>
<circle cx="348.7" cy="400.1" r="1.7" fill="#f2c43e" stroke="#2e3c62" stroke-width="0.75"/>
<circle cx="352.8" cy="400.1" r="1.7" fill="#f2c43e" stroke="#2e3c62" stroke-width="0.75"/>
<circle cx="348.7" cy="406.4" r="1.7" fill="#f2c43e" stroke="#2e3c62" stroke-width="0.75"/>
<circle cx="352.8" cy="405.3" r="1.7" fill="#f2c43e" stroke="#2e3c62" stroke-width="0.75"/>
<circle cx="381.3" cy="374.7" r="1.7" fill="#f2c43e" stroke="#2e3c62" stroke-width="0.75"/>
<circle cx="379.2" cy="389" r="1.7" fill="#f2c43e" stroke="#2e3c62" stroke-width="0.75"/>
<circle cx="382" cy="389.7" r="1.7" fill="#f2c43e" stroke="#2e3c62" stroke-width="0.75"/>
<circle cx="384" cy="389" r="1.7" fill="#f2c43e" stroke="#2e3c62" stroke-width="0.75"/>
<circle cx="379.9" cy="399.2" r="1.7" fill="#f2c43e" stroke="#2e3c62" stroke-width="0.75"/>
<circle cx="382" cy="402.6" r="1.7" fill="#f2c43e" stroke="#2e3c62" stroke-width="0.75"/>
<circle cx="379.6" cy="401.2" r="1.7" fill="#f2c43e" stroke="#2e3c62" stroke-width="0.75"/>
<circle cx="379.2" cy="413.7" r="1.7" fill="#f2c43e" stroke="#2e3c62" stroke-width="0.75"/>
<circle cx="382.9" cy="414.1" r="1.7" fill="#f2c43e" stroke="#2e3c62" stroke-width="0.75"/>
<circle cx="379.2" cy="421.8" r="1.7" fill="#f2c43e" stroke="#2e3c62" stroke-width="0.75"/>
<circle cx="382.9" cy="420.5" r="1.7" fill="#f2c43e" stroke="#2e3c62" stroke-width="0.75"/>
<circle cx="411.6" cy="374.5" r="1.7" fill="#f2c43e" stroke="#2e3c62" stroke-width="0.75"/>
<circle cx="409.5" cy="381.3" r="1.7" fill="#f2c43e" stroke="#2e3c62" stroke-width="0.75"/>
<circle cx="413.9" cy="379.8" r="1.7" fill="#f2c43e" stroke="#2e3c62" stroke-width="0.75"/>
<circle cx="412" cy="386.8" r="1.7" fill="#f2c43e" stroke="#2e3c62" stroke-width="0.75"/>
<circle cx="409.1" cy="390" r="1.7" fill="#f2c43e" stroke="#2e3c62" stroke-width="0.75"/>
<circle cx="414.2" cy="389.4" r="1.7" fill="#f2c43e" stroke="#2e3c62" stroke-width="0.75"/>
<circle cx="412" cy="390.9" r="1.7" fill="#f2c43e" stroke="#2e3c62" stroke-width="0.75"/>
<circle cx="409.8" cy="393.4" r="1.7" fill="#f2c43e" stroke="#2e3c62" stroke-width="0.75"/>
<circle cx="413.4" cy="394.1" r="1.7" fill="#f2c43e" stroke="#2e3c62" stroke-width="0.75"/>
<circle cx="411.3" cy="396.7" r="1.7" fill="#f2c43e" stroke="#2e3c62" stroke-width="0.75"/>
<circle cx="409.1" cy="395.8" r="1.7" fill="#f2c43e" stroke="#2e3c62" stroke-width="0.75"/>
<circle cx="413.9" cy="405.7" r="1.7" fill="#f2c43e" stroke="#2e3c62" stroke-width="0.75"/>
<circle cx="409.5" cy="410.1" r="1.7" fill="#f2c43e" stroke="#2e3c62" stroke-width="0.75"/>
<circle cx="442.1" cy="379.1" r="1.7" fill="#f2c43e" stroke="#2e3c62" stroke-width="0.75"/>
<circle cx="440.1" cy="389.4" r="1.7" fill="#f2c43e" stroke="#2e3c62" stroke-width="0.75"/>
<circle cx="444" cy="388.6" r="1.7" fill="#f2c43e" stroke="#2e3c62" stroke-width="0.75"/>
<circle cx="442.1" cy="395.5" r="1.7" fill="#f2c43e" stroke="#2e3c62" stroke-width="0.75"/>
<circle cx="442.1" cy="401.1" r="1.7" fill="#f2c43e" stroke="#2e3c62" stroke-width="0.75"/>
<circle cx="442.1" cy="412.7" r="1.7" fill="#f2c43e" stroke="#2e3c62" stroke-width="0.75"/>
<circle cx="440.3" cy="417.6" r="1.7" fill="#f2c43e" stroke="#2e3c62" stroke-width="0.75"/>
<circle cx="444" cy="419.1" r="1.7" fill="#f2c43e" stroke="#2e3c62" stroke-width="0.75"/>
<circle cx="442.1" cy="421" r="1.7" fill="#f2c43e" stroke="#2e3c62" stroke-width="0.75"/>
<circle cx="474.7" cy="383.9" r="1.7" fill="#f2c43e" stroke="#2e3c62" stroke-width="0.75"/>
<circle cx="471" cy="387.5" r="1.7" fill="#f2c43e" stroke="#2e3c62" stroke-width="0.75"/>
<circle cx="474.4" cy="388.3" r="1.7" fill="#f2c43e" stroke="#2e3c62" stroke-width="0.75"/>
<circle cx="471.3" cy="391.1" r="1.7" fill="#f2c43e" stroke="#2e3c62" stroke-width="0.75"/>
<circle cx="472.8" cy="393.7" r="1.7" fill="#f2c43e" stroke="#2e3c62" stroke-width="0.75"/>
<circle cx="471" cy="398.4" r="1.7" fill="#f2c43e" stroke="#2e3c62" stroke-width="0.75"/>
<circle cx="473.6" cy="399.5" r="1.7" fill="#f2c43e" stroke="#2e3c62" stroke-width="0.75"/>
<circle cx="471.8" cy="401.5" r="1.7" fill="#f2c43e" stroke="#2e3c62" stroke-width="0.75"/>
<circle cx="473.6" cy="403" r="1.7" fill="#f2c43e" stroke="#2e3c62" stroke-width="0.75"/>
<circle cx="471" cy="404.8" r="1.7" fill="#f2c43e" stroke="#2e3c62" stroke-width="0.75"/>
<circle cx="473.4" cy="406.9" r="1.7" fill="#f2c43e" stroke="#2e3c62" stroke-width="0.75"/>
<circle cx="472.5" cy="419" r="1.7" fill="#f2c43e" stroke="#2e3c62" stroke-width="0.75"/>
<circle cx="503.1" cy="378.7" r="1.7" fill="#f2c43e" stroke="#2e3c62" stroke-width="0.75"/>
<circle cx="501.5" cy="383.9" r="1.7" fill="#f2c43e" stroke="#2e3c62" stroke-width="0.75"/>
<circle cx="506.6" cy="384.9" r="1.7" fill="#f2c43e" stroke="#2e3c62" stroke-width="0.75"/>
<circle cx="501" cy="388.3" r="1.7" fill="#f2c43e" stroke="#2e3c62" stroke-width="0.75"/>
<circle cx="505.1" cy="388" r="1.7" fill="#f2c43e" stroke="#2e3c62" stroke-width="0.75"/>
<circle cx="503.5" cy="390.6" r="1.7" fill="#f2c43e" stroke="#2e3c62" stroke-width="0.75"/>
<circle cx="501.4" cy="392.9" r="1.7" fill="#f2c43e" stroke="#2e3c62" stroke-width="0.75"/>
<circle cx="505" cy="392.2" r="1.7" fill="#f2c43e" stroke="#2e3c62" stroke-width="0.75"/>
<circle cx="503.5" cy="395.2" r="1.7" fill="#f2c43e" stroke="#2e3c62" stroke-width="0.75"/>
<circle cx="501.4" cy="397.6" r="1.7" fill="#f2c43e" stroke="#2e3c62" stroke-width="0.75"/>
<circle cx="505.6" cy="396.8" r="1.7" fill="#f2c43e" stroke="#2e3c62" stroke-width="0.75"/>
<circle cx="502.3" cy="399.9" r="1.7" fill="#f2c43e" stroke="#2e3c62" stroke-width="0.75"/>
<circle cx="504.6" cy="400.7" r="1.7" fill="#f2c43e" stroke="#2e3c62" stroke-width="0.75"/>
<circle cx="501.4" cy="403" r="1.7" fill="#f2c43e" stroke="#2e3c62" stroke-width="0.75"/>
<circle cx="505.6" cy="403.8" r="1.7" fill="#f2c43e" stroke="#2e3c62" stroke-width="0.75"/>
<circle cx="503.5" cy="405.6" r="1.7" fill="#f2c43e" stroke="#2e3c62" stroke-width="0.75"/>
<circle cx="505.3" cy="406.9" r="1.7" fill="#f2c43e" stroke="#2e3c62" stroke-width="0.75"/>
<circle cx="501.4" cy="408.7" r="1.7" fill="#f2c43e" stroke="#2e3c62" stroke-width="0.75"/>
<circle cx="503.8" cy="410" r="1.7" fill="#f2c43e" stroke="#2e3c62" stroke-width="0.75"/>
<path d="M300.3,393.4 L304.7,396.3 L311.7,396.3 L316.7,399.4 L324.2,399.4" fill="none" stroke="#ad2a3c" stroke-width="1.3" stroke-linejoin="round"/>
<path d="M329.0,393.4 L335.2,397.8 L342.2,397.8 L347.2,391.0 L354.7,391.0" fill="none" stroke="#ad2a3c" stroke-width="1.3" stroke-linejoin="round"/>
<path d="M359.4,393.4 L365.7,403.2 L372.7,403.2 L377.7,400.5 L385.2,400.5" fill="none" stroke="#ad2a3c" stroke-width="1.3" stroke-linejoin="round"/>
<path d="M389.8,393.4 L396.2,399.2 L403.2,399.2 L408.2,391.9 L415.7,391.9" fill="none" stroke="#ad2a3c" stroke-width="1.3" stroke-linejoin="round"/>
<path d="M420.2,393.4 L426.7,394.8 L433.7,394.8 L438.7,402.8 L446.2,402.8" fill="none" stroke="#ad2a3c" stroke-width="1.3" stroke-linejoin="round"/>
<path d="M450.6,393.4 L457.2,405.0 L464.2,405.0 L469.2,398.6 L476.7,398.6" fill="none" stroke="#ad2a3c" stroke-width="1.3" stroke-linejoin="round"/>
<path d="M481.0,393.4 L487.7,412.3 L494.7,412.3 L499.7,399.4 L507.2,399.4" fill="none" stroke="#ad2a3c" stroke-width="1.3" stroke-linejoin="round"/>
<line x1="299.6" y1="365.5" x2="299.6" y2="445.4" stroke="#222" stroke-width="1.1"/>
<line x1="299.1" y1="445.4" x2="513.1" y2="445.4" stroke="#222" stroke-width="1.1"/>
<line x1="296.5" y1="368.50" x2="299.6" y2="368.50" stroke="#222" stroke-width="0.8"/>
<text x="294.00" y="370.70" font-size="6.3" fill="#222" text-anchor="end" >2</text>
<line x1="296.5" y1="393.30" x2="299.6" y2="393.30" stroke="#222" stroke-width="0.8"/>
<text x="294.00" y="395.50" font-size="6.3" fill="#222" text-anchor="end" >0</text>
<line x1="296.5" y1="418.10" x2="299.6" y2="418.10" stroke="#222" stroke-width="0.8"/>
<text x="294.00" y="420.30" font-size="6.3" fill="#222" text-anchor="end" >-2</text>
<line x1="296.5" y1="442.90" x2="299.6" y2="442.90" stroke="#222" stroke-width="0.8"/>
<text x="294.00" y="445.10" font-size="6.3" fill="#222" text-anchor="end" >-4</text>
<line x1="314.20" y1="445.4" x2="314.20" y2="448" stroke="#222" stroke-width="0.8"/>
<text x="314.20" y="456.60" font-size="6.7" fill="#222" text-anchor="middle" textLength="12.9" lengthAdjust="spacingAndGlyphs" >CTRL</text>
<line x1="344.70" y1="445.4" x2="344.70" y2="448" stroke="#222" stroke-width="0.8"/>
<text x="344.70" y="456.60" font-size="6.7" fill="#222" text-anchor="middle" textLength="20.3" lengthAdjust="spacingAndGlyphs" >PHGDH</text>
<line x1="375.20" y1="445.4" x2="375.20" y2="448" stroke="#222" stroke-width="0.8"/>
<text x="375.20" y="456.60" font-size="6.7" fill="#222" text-anchor="middle" textLength="14.3" lengthAdjust="spacingAndGlyphs" >BIVM</text>
<line x1="405.70" y1="445.4" x2="405.70" y2="448" stroke="#222" stroke-width="0.8"/>
<text x="405.70" y="456.60" font-size="6.7" fill="#222" text-anchor="middle" textLength="20.8" lengthAdjust="spacingAndGlyphs" >MMP28</text>
<line x1="436.20" y1="445.4" x2="436.20" y2="448" stroke="#222" stroke-width="0.8"/>
<text x="436.20" y="456.60" font-size="6.7" fill="#222" text-anchor="middle" textLength="13.5" lengthAdjust="spacingAndGlyphs" >CAV1</text>
<line x1="466.70" y1="445.4" x2="466.70" y2="448" stroke="#222" stroke-width="0.8"/>
<text x="466.70" y="456.60" font-size="6.7" fill="#222" text-anchor="middle" textLength="19.2" lengthAdjust="spacingAndGlyphs" >SPINK2</text>
<line x1="497.20" y1="445.4" x2="497.20" y2="448" stroke="#222" stroke-width="0.8"/>
<text x="497.20" y="456.60" font-size="6.7" fill="#222" text-anchor="middle" textLength="21.1" lengthAdjust="spacingAndGlyphs" >C3orf54</text>
<rect x="284.6" y="464.2" width="228" height="19.2" fill="#fff" stroke="#222" stroke-width="0.9"/>
<line x1="284.6" y1="474.2" x2="512.6" y2="474.2" stroke="#222" stroke-width="0.9"/>
<line x1="299.70" y1="464.2" x2="299.70" y2="483.4" stroke="#222" stroke-width="0.9"/>
<line x1="330.10" y1="464.2" x2="330.10" y2="483.4" stroke="#222" stroke-width="0.9"/>
<line x1="360.50" y1="464.2" x2="360.50" y2="483.4" stroke="#222" stroke-width="0.9"/>
<line x1="390.90" y1="464.2" x2="390.90" y2="483.4" stroke="#222" stroke-width="0.9"/>
<line x1="421.30" y1="464.2" x2="421.30" y2="483.4" stroke="#222" stroke-width="0.9"/>
<line x1="451.70" y1="464.2" x2="451.70" y2="483.4" stroke="#222" stroke-width="0.9"/>
<line x1="482.10" y1="464.2" x2="482.10" y2="483.4" stroke="#222" stroke-width="0.9"/>
<rect x="286" y="465.5" width="225.3" height="16.6" fill="none" stroke="#666" stroke-width="0.4"/>
<text x="291.80" y="471.40" font-size="5.4" fill="#222" text-anchor="middle" >p=</text>
<text x="291.80" y="480.60" font-size="5.4" fill="#222" text-anchor="middle" >FC</text>
<text x="326.90" y="471.40" font-size="5" fill="#222" text-anchor="end" >0.112</text>
<rect x="315.10" y="475.4" width="5.30" height="7" fill="#a8a4a4"/>
<text x="326.70" y="480.80" font-size="5" fill="#222" text-anchor="end" >0.81</text>
<text x="357.30" y="471.40" font-size="5" fill="#222" text-anchor="end" >0.117</text>
<rect x="345.50" y="475.4" width="9.20" height="7" fill="#a8a4a4"/>
<text x="357.10" y="480.80" font-size="5" fill="#222" text-anchor="end" >1.48</text>
<text x="387.70" y="471.40" font-size="5" fill="#222" text-anchor="end" >0.764</text>
<rect x="375.90" y="475.4" width="6.50" height="7" fill="#a8a4a4"/>
<text x="387.50" y="480.80" font-size="5" fill="#222" text-anchor="end" >1.11</text>
<text x="418.10" y="471.40" font-size="5" fill="#222" text-anchor="end" >0.076</text>
<rect x="406.30" y="475.4" width="9.00" height="7" fill="#a8a4a4"/>
<text x="417.90" y="480.80" font-size="5" fill="#222" text-anchor="end" >1.46</text>
<text x="448.50" y="471.40" font-size="5" fill="#222" text-anchor="end" >0.127</text>
<rect x="436.70" y="475.4" width="4.50" height="7" fill="#a8a4a4"/>
<text x="448.30" y="480.80" font-size="5" fill="#222" text-anchor="end" >0.62</text>
<text x="478.90" y="471.40" font-size="5" fill="#222" text-anchor="end" >0.035*</text>
<rect x="467.10" y="475.4" width="9.80" height="7" fill="#a8a4a4"/>
<text x="478.70" y="480.80" font-size="5" fill="#222" text-anchor="end" >1.40</text>
<text x="509.30" y="471.40" font-size="5" fill="#222" text-anchor="end" >0.002**</text>
<rect x="497.50" y="475.4" width="14.00" height="7" fill="#a8a4a4"/>
<text x="509.10" y="480.80" font-size="5" fill="#222" text-anchor="end" >2.06</text>
<rect x="0" y="0" width="520" height="1" fill="#111"/>
<rect x="0" y="0" width="1.5" height="516" fill="#4a4a4a"/>
<rect x="518" y="0" width="2" height="516" fill="#454545"/>
<rect x="0" y="514" width="520" height="2" fill="#454545"/>
</svg></body></html>
